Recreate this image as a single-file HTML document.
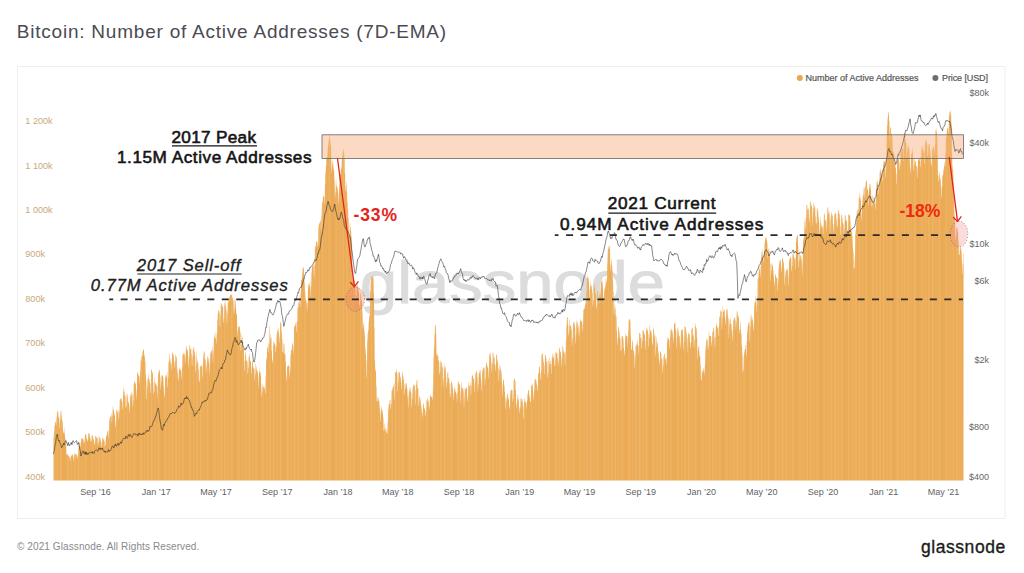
<!DOCTYPE html>
<html><head><meta charset="utf-8">
<style>
html,body{margin:0;padding:0;background:#ffffff;}
body{width:1024px;height:573px;overflow:hidden;position:relative;font-family:"Liberation Sans", sans-serif;}
svg{position:absolute;left:0;top:0;}
</style></head><body>
<svg width="1024" height="573" viewBox="0 0 1024 573" font-family='"Liberation Sans", sans-serif'>
<rect x="17.5" y="66.5" width="987.5" height="452" fill="#ffffff" stroke="#efefef" stroke-width="1"/>
<text x="16.8" y="38.4" font-size="19" fill="#4b4b53" letter-spacing="0.775">Bitcoin: Number of Active Addresses (7D-EMA)</text>
<!-- legend -->
<circle cx="799.8" cy="78" r="3" fill="#e9a74f"/>
<text x="805.5" y="81.4" font-size="9" fill="#555" stroke="#555" stroke-width="0.2">Number of Active Addresses</text>
<circle cx="935.4" cy="78" r="3" fill="#6e6e6e"/>
<text x="942" y="81.4" font-size="9" fill="#555" stroke="#555" stroke-width="0.2" letter-spacing="-0.1">Price [USD]</text>
<!-- left axis -->
<g font-size="9.1" fill="#c9a87c">
<text x="25.3" y="124.1">1 200k</text>
<text x="25.3" y="168.5">1 100k</text>
<text x="25.3" y="213.0">1 000k</text>
<text x="25.3" y="257.4">900k</text>
<text x="25.3" y="301.9">800k</text>
<text x="25.3" y="346.3">700k</text>
<text x="25.3" y="390.7">600k</text>
<text x="25.3" y="435.2">500k</text>
<text x="25.3" y="479.6">400k</text>
</g>
<g font-size="9" fill="#666" text-anchor="end">
<text x="989" y="96.1">$80k</text>
<text x="989" y="146.3">$40k</text>
<text x="989" y="246.7">$10k</text>
<text x="989" y="283.7">$6k</text>
<text x="989" y="363.2">$2k</text>
<text x="989" y="429.6">$800</text>
<text x="989" y="479.8">$400</text>
</g>
<g font-size="9" fill="#5f5f66" text-anchor="middle">
<text x="95.5" y="494.9">Sep &#8217;16</text>
<text x="156.3" y="494.9">Jan &#8217;17</text>
<text x="216.0" y="494.9">May &#8217;17</text>
<text x="277.3" y="494.9">Sep &#8217;17</text>
<text x="338.0" y="494.9">Jan &#8217;18</text>
<text x="397.8" y="494.9">May &#8217;18</text>
<text x="459.0" y="494.9">Sep &#8217;18</text>
<text x="519.8" y="494.9">Jan &#8217;19</text>
<text x="579.6" y="494.9">May &#8217;19</text>
<text x="640.8" y="494.9">Sep &#8217;19</text>
<text x="701.6" y="494.9">Jan &#8217;20</text>
<text x="761.8" y="494.9">May &#8217;20</text>
<text x="823.1" y="494.9">Sep &#8217;20</text>
<text x="883.8" y="494.9">Jan &#8217;21</text>
<text x="943.6" y="494.9">May &#8217;21</text>
</g>
<text x="360" y="303" font-size="60" fill="#dcdcdc" stroke="#dcdcdc" stroke-width="0.9" textLength="305" lengthAdjust="spacingAndGlyphs">glassnode</text>
<rect x="322" y="134.8" width="641.4" height="23.6" fill="#fcdcc6"/>
<defs><pattern id="st" patternUnits="userSpaceOnUse" x="53.5" y="0" width="24.4" height="10"><rect x="0" y="0" width="1.2" height="10" fill="#fff2d0" fill-opacity="0.16"/><rect x="3.4" y="0" width="0.9" height="10" fill="#fff2d0" fill-opacity="0.1"/><rect x="6.8" y="0" width="1.4" height="10" fill="#fff2d0" fill-opacity="0.13"/><rect x="10.6" y="0" width="0.8" height="10" fill="#c07018" fill-opacity="0.07"/><rect x="13.9" y="0" width="1.1" height="10" fill="#fff2d0" fill-opacity="0.14"/><rect x="17.6" y="0" width="1.0" height="10" fill="#fff2d0" fill-opacity="0.09"/><rect x="20.9" y="0" width="1.3" height="10" fill="#fff2d0" fill-opacity="0.13"/><rect x="9.0" y="0" width="1.0" height="10" fill="#c07018" fill-opacity="0.06"/><rect x="22.6" y="0" width="0.8" height="10" fill="#c07018" fill-opacity="0.06"/></pattern></defs>
<path d="M53.5,480.6 L53.5,438.0 L53.7,438.0 L54.0,432.5 L54.2,432.5 L54.5,426.0 L54.7,426.0 L55.0,421.7 L55.2,421.7 L55.5,421.8 L55.7,421.8 L56.0,425.7 L56.2,425.7 L56.5,418.3 L56.7,418.3 L57.0,412.7 L57.2,412.7 L57.5,410.4 L57.7,410.4 L58.0,411.7 L58.2,411.7 L58.5,417.4 L58.7,417.4 L59.0,416.9 L59.2,416.9 L59.5,428.2 L59.7,428.2 L60.0,420.2 L60.2,420.2 L60.5,412.2 L60.7,412.2 L61.0,410.0 L61.2,410.0 L61.5,415.4 L61.7,415.4 L62.0,420.1 L62.2,420.1 L62.5,422.5 L62.7,422.5 L63.0,433.7 L63.2,433.7 L63.5,431.9 L63.7,431.9 L64.0,427.7 L64.2,427.7 L64.5,433.6 L64.7,433.6 L65.0,437.5 L65.2,437.5 L65.5,441.0 L65.7,441.0 L66.0,444.7 L66.2,444.7 L66.4,454.8 L66.7,454.8 L66.9,454.0 L67.2,454.0 L67.4,454.4 L67.7,454.4 L67.9,455.5 L68.2,455.5 L68.4,455.8 L68.7,455.8 L68.9,456.8 L69.2,456.8 L69.4,456.7 L69.7,456.7 L69.9,460.9 L70.2,460.9 L70.4,458.0 L70.7,458.0 L70.9,455.8 L71.2,455.8 L71.4,455.8 L71.7,455.8 L71.9,454.4 L72.2,454.4 L72.4,454.7 L72.7,454.7 L72.9,455.5 L73.2,455.5 L73.4,460.5 L73.7,460.5 L73.9,457.1 L74.2,457.1 L74.4,454.1 L74.7,454.1 L74.9,453.5 L75.2,453.5 L75.4,454.2 L75.7,454.2 L75.9,454.2 L76.2,454.2 L76.4,454.8 L76.7,454.8 L76.9,458.8 L77.2,458.8 L77.4,456.5 L77.7,456.5 L77.9,453.7 L78.2,453.7 L78.4,449.0 L78.6,449.0 L78.9,445.8 L79.1,445.8 L79.4,442.0 L79.6,442.0 L79.9,442.6 L80.1,442.6 L80.4,446.9 L80.6,446.9 L80.9,441.4 L81.1,441.4 L81.4,438.3 L81.6,438.3 L81.9,438.8 L82.1,438.8 L82.4,438.9 L82.6,438.9 L82.9,438.2 L83.1,438.2 L83.4,439.8 L83.6,439.8 L83.9,443.6 L84.1,443.6 L84.4,442.0 L84.6,442.0 L84.9,435.2 L85.1,435.2 L85.4,434.3 L85.6,434.3 L85.9,433.9 L86.1,433.9 L86.4,437.3 L86.6,437.3 L86.9,438.9 L87.1,438.9 L87.4,441.4 L87.6,441.4 L87.9,440.2 L88.1,440.2 L88.4,433.2 L88.6,433.2 L88.9,433.3 L89.1,433.3 L89.4,434.3 L89.6,434.3 L89.9,437.0 L90.1,437.0 L90.4,439.0 L90.6,439.0 L90.8,442.1 L91.1,442.1 L91.3,440.7 L91.6,440.7 L91.8,434.4 L92.1,434.4 L92.3,436.3 L92.6,436.3 L92.8,435.7 L93.1,435.7 L93.3,438.7 L93.6,438.7 L93.8,440.6 L94.1,440.6 L94.3,444.9 L94.6,444.9 L94.8,443.2 L95.1,443.2 L95.3,435.8 L95.6,435.8 L95.8,436.0 L96.1,436.0 L96.3,437.9 L96.6,437.9 L96.8,436.7 L97.1,436.7 L97.3,438.7 L97.6,438.7 L97.8,445.3 L98.1,445.3 L98.3,442.6 L98.6,442.6 L98.8,436.5 L99.1,436.5 L99.3,436.6 L99.6,436.6 L99.8,439.5 L100.1,439.5 L100.3,438.3 L100.6,438.3 L100.8,442.0 L101.1,442.0 L101.3,447.5 L101.6,447.5 L101.8,442.3 L102.1,442.3 L102.3,437.4 L102.6,437.4 L102.8,438.1 L103.1,438.1 L103.3,439.3 L103.5,439.3 L103.8,439.9 L104.0,439.9 L104.3,441.1 L104.5,441.1 L104.8,447.0 L105.0,447.0 L105.3,444.7 L105.5,444.7 L105.8,437.7 L106.0,437.7 L106.3,435.5 L106.5,435.5 L106.8,434.8 L107.0,434.8 L107.3,431.3 L107.5,431.3 L107.8,430.8 L108.0,430.8 L108.3,438.7 L108.5,438.7 L108.8,430.1 L109.0,430.1 L109.3,420.8 L109.5,420.8 L109.8,417.5 L110.0,417.5 L110.3,416.8 L110.5,416.8 L110.8,416.4 L111.0,416.4 L111.3,413.0 L111.5,413.0 L111.8,423.6 L112.0,423.6 L112.3,415.8 L112.5,415.8 L112.8,406.1 L113.0,406.1 L113.3,409.5 L113.5,409.5 L113.8,410.8 L114.0,410.8 L114.3,414.3 L114.5,414.3 L114.8,415.7 L115.0,415.7 L115.3,427.7 L115.5,427.7 L115.8,422.7 L116.0,422.7 L116.2,410.9 L116.5,410.9 L116.7,409.4 L117.0,409.4 L117.2,411.3 L117.5,411.3 L117.7,412.7 L118.0,412.7 L118.2,409.2 L118.5,409.2 L118.7,419.1 L119.0,419.1 L119.2,412.3 L119.5,412.3 L119.7,399.9 L120.0,399.9 L120.2,399.1 L120.5,399.1 L120.7,398.3 L121.0,398.3 L121.2,398.5 L121.5,398.5 L121.7,401.2 L122.0,401.2 L122.2,409.2 L122.5,409.2 L122.7,401.3 L123.0,401.3 L123.2,391.8 L123.5,391.8 L123.7,387.3 L124.0,387.3 L124.2,391.6 L124.5,391.6 L124.7,395.4 L125.0,395.4 L125.2,396.0 L125.5,396.0 L125.7,408.1 L126.0,408.1 L126.2,406.0 L126.5,406.0 L126.7,393.5 L127.0,393.5 L127.2,394.6 L127.5,394.6 L127.7,398.2 L128.0,398.2 L128.2,402.4 L128.4,402.4 L128.7,402.0 L128.9,402.0 L129.2,413.0 L129.4,413.0 L129.7,405.0 L129.9,405.0 L130.2,396.8 L130.4,396.8 L130.7,393.4 L130.9,393.4 L131.2,396.3 L131.4,396.3 L131.7,391.3 L131.9,391.3 L132.2,393.9 L132.4,393.9 L132.7,407.2 L132.9,407.2 L133.2,400.2 L133.4,400.2 L133.7,383.9 L133.9,383.9 L134.2,381.8 L134.4,381.8 L134.7,380.7 L134.9,380.7 L135.2,384.1 L135.4,384.1 L135.7,382.9 L135.9,382.9 L136.2,399.4 L136.4,399.4 L136.7,390.1 L136.9,390.1 L137.2,373.0 L137.4,373.0 L137.7,371.7 L137.9,371.7 L138.2,375.9 L138.4,375.9 L138.7,374.4 L138.9,374.4 L139.2,376.4 L139.4,376.4 L139.7,383.3 L139.9,383.3 L140.2,371.3 L140.4,371.3 L140.7,358.9 L140.9,358.9 L141.1,360.9 L141.4,360.9 L141.6,355.8 L141.9,355.8 L142.1,355.7 L142.4,355.7 L142.6,351.6 L142.9,351.6 L143.1,349.2 L143.4,349.2 L143.6,350.1 L143.9,350.1 L144.1,354.5 L144.4,354.5 L144.6,356.8 L144.9,356.8 L145.1,361.2 L145.4,361.2 L145.6,374.1 L145.9,374.1 L146.1,381.0 L146.4,381.0 L146.6,399.2 L146.9,399.2 L147.1,387.0 L147.4,387.0 L147.6,378.5 L147.9,378.5 L148.1,378.7 L148.4,378.7 L148.6,373.8 L148.9,373.8 L149.1,379.0 L149.4,379.0 L149.6,382.1 L149.9,382.1 L150.1,393.1 L150.4,393.1 L150.6,383.4 L150.9,383.4 L151.1,369.6 L151.4,369.6 L151.6,369.7 L151.9,369.7 L152.1,371.7 L152.4,371.7 L152.6,373.4 L152.9,373.4 L153.1,382.0 L153.3,382.0 L153.6,394.0 L153.8,394.0 L154.1,391.6 L154.3,391.6 L154.6,377.5 L154.8,377.5 L155.1,383.7 L155.3,383.7 L155.6,382.2 L155.8,382.2 L156.1,384.4 L156.3,384.4 L156.6,386.0 L156.8,386.0 L157.1,397.8 L157.3,397.8 L157.6,386.0 L157.8,386.0 L158.1,371.2 L158.3,371.2 L158.6,373.9 L158.8,373.9 L159.1,369.5 L159.3,369.5 L159.6,370.9 L159.8,370.9 L160.1,376.9 L160.3,376.9 L160.6,390.0 L160.8,390.0 L161.1,382.3 L161.3,382.3 L161.6,375.6 L161.8,375.6 L162.1,375.2 L162.3,375.2 L162.6,375.6 L162.8,375.6 L163.1,377.6 L163.3,377.6 L163.6,386.7 L163.8,386.7 L164.1,397.8 L164.3,397.8 L164.6,393.4 L164.8,393.4 L165.1,377.4 L165.3,377.4 L165.6,374.7 L165.8,374.7 L166.0,375.7 L166.3,375.7 L166.5,376.9 L166.8,376.9 L167.0,372.1 L167.3,372.1 L167.5,387.4 L167.8,387.4 L168.0,377.8 L168.3,377.8 L168.5,362.2 L168.8,362.2 L169.0,360.6 L169.3,360.6 L169.5,353.4 L169.8,353.4 L170.0,358.4 L170.3,358.4 L170.5,363.1 L170.8,363.1 L171.0,369.4 L171.3,369.4 L171.5,363.0 L171.8,363.0 L172.0,351.7 L172.3,351.7 L172.5,353.7 L172.8,353.7 L173.0,354.1 L173.3,354.1 L173.5,356.0 L173.8,356.0 L174.0,361.2 L174.3,361.2 L174.5,367.8 L174.8,367.8 L175.0,361.8 L175.3,361.8 L175.5,354.2 L175.8,354.2 L176.0,356.0 L176.3,356.0 L176.5,357.8 L176.8,357.8 L177.0,368.5 L177.3,368.5 L177.5,372.4 L177.8,372.4 L178.0,381.0 L178.2,381.0 L178.5,378.2 L178.7,378.2 L179.0,367.0 L179.2,367.0 L179.5,369.4 L179.7,369.4 L180.0,368.8 L180.2,368.8 L180.5,370.4 L180.7,370.4 L181.0,370.6 L181.2,370.6 L181.5,379.5 L181.7,379.5 L182.0,367.8 L182.2,367.8 L182.5,355.0 L182.7,355.0 L183.0,352.6 L183.2,352.6 L183.5,354.2 L183.7,354.2 L184.0,354.7 L184.2,354.7 L184.5,353.0 L184.7,353.0 L185.0,363.5 L185.2,363.5 L185.5,356.2 L185.7,356.2 L186.0,345.6 L186.2,345.6 L186.5,348.3 L186.7,348.3 L187.0,351.0 L187.2,351.0 L187.5,349.3 L187.7,349.3 L188.0,355.5 L188.2,355.5 L188.5,366.9 L188.7,366.9 L189.0,357.3 L189.2,357.3 L189.5,344.7 L189.7,344.7 L190.0,346.5 L190.2,346.5 L190.4,349.5 L190.7,349.5 L190.9,348.7 L191.2,348.7 L191.4,354.3 L191.7,354.3 L191.9,365.9 L192.2,365.9 L192.4,356.6 L192.7,356.6 L192.9,347.4 L193.2,347.4 L193.4,350.2 L193.7,350.2 L193.9,347.1 L194.2,347.1 L194.4,352.0 L194.7,352.0 L194.9,355.5 L195.2,355.5 L195.4,372.6 L195.7,372.6 L195.9,365.6 L196.2,365.6 L196.4,351.6 L196.7,351.6 L196.9,359.3 L197.2,359.3 L197.4,362.4 L197.7,362.4 L197.9,362.3 L198.2,362.3 L198.4,369.4 L198.7,369.4 L198.9,382.2 L199.2,382.2 L199.4,380.4 L199.7,380.4 L199.9,365.7 L200.2,365.7 L200.4,367.0 L200.7,367.0 L200.9,366.1 L201.2,366.1 L201.4,365.1 L201.7,365.1 L201.9,367.1 L202.2,367.1 L202.4,377.2 L202.7,377.2 L202.9,364.0 L203.1,364.0 L203.4,354.4 L203.6,354.4 L203.9,351.1 L204.1,351.1 L204.4,352.3 L204.6,352.3 L204.9,360.1 L205.1,360.1 L205.4,358.5 L205.6,358.5 L205.9,373.1 L206.1,373.1 L206.4,366.3 L206.6,366.3 L206.9,361.8 L207.1,361.8 L207.4,357.0 L207.6,357.0 L207.9,355.6 L208.1,355.6 L208.4,362.0 L208.6,362.0 L208.9,357.9 L209.1,357.9 L209.4,375.3 L209.6,375.3 L209.9,364.6 L210.1,364.6 L210.4,352.5 L210.6,352.5 L210.9,353.1 L211.1,353.1 L211.4,350.1 L211.6,350.1 L211.9,351.5 L212.1,351.5 L212.4,346.4 L212.6,346.4 L212.9,363.3 L213.1,363.3 L213.4,351.3 L213.6,351.3 L213.9,338.9 L214.1,338.9 L214.4,334.2 L214.6,334.2 L214.9,337.6 L215.1,337.6 L215.3,338.7 L215.6,338.7 L215.8,331.5 L216.1,331.5 L216.3,343.2 L216.6,343.2 L216.8,333.7 L217.1,333.7 L217.3,320.5 L217.6,320.5 L217.8,313.5 L218.1,313.5 L218.3,311.0 L218.6,311.0 L218.8,309.7 L219.1,309.7 L219.3,312.5 L219.6,312.5 L219.8,326.4 L220.1,326.4 L220.3,315.3 L220.6,315.3 L220.8,303.0 L221.1,303.0 L221.3,303.9 L221.6,303.9 L221.8,304.8 L222.1,304.8 L222.3,306.7 L222.6,306.7 L222.8,306.8 L223.1,306.8 L223.3,323.0 L223.6,323.0 L223.8,318.5 L224.1,318.5 L224.3,301.9 L224.6,301.9 L224.8,305.3 L225.1,305.3 L225.3,301.8 L225.6,301.8 L225.8,307.5 L226.1,307.5 L226.3,310.8 L226.6,310.8 L226.8,322.9 L227.1,322.9 L227.3,313.3 L227.6,313.3 L227.8,299.8 L228.0,299.8 L228.3,300.8 L228.5,300.8 L228.8,303.0 L229.0,303.0 L229.3,297.3 L229.5,297.3 L229.8,295.9 L230.0,295.9 L230.3,294.6 L230.5,294.6 L230.8,295.0 L231.0,295.0 L231.3,294.5 L231.5,294.5 L231.8,295.3 L232.0,295.3 L232.3,299.3 L232.5,299.3 L232.8,297.1 L233.0,297.1 L233.3,301.1 L233.5,301.1 L233.8,314.0 L234.0,314.0 L234.3,309.7 L234.5,309.7 L234.8,298.3 L235.0,298.3 L235.3,300.6 L235.5,300.6 L235.8,307.8 L236.0,307.8 L236.3,313.8 L236.5,313.8 L236.8,314.7 L237.0,314.7 L237.3,335.9 L237.5,335.9 L237.8,330.5 L238.0,330.5 L238.3,326.4 L238.5,326.4 L238.8,326.3 L239.0,326.3 L239.3,326.2 L239.5,326.2 L239.8,328.6 L240.0,328.6 L240.2,332.2 L240.5,332.2 L240.7,351.1 L241.0,351.1 L241.2,344.5 L241.5,344.5 L241.7,334.6 L242.0,334.6 L242.2,337.7 L242.5,337.7 L242.7,341.0 L243.0,341.0 L243.2,348.5 L243.5,348.5 L243.7,348.7 L244.0,348.7 L244.2,370.8 L244.5,370.8 L244.7,361.0 L245.0,361.0 L245.2,352.2 L245.5,352.2 L245.7,354.5 L246.0,354.5 L246.2,360.0 L246.5,360.0 L246.7,361.2 L247.0,361.2 L247.2,361.8 L247.5,361.8 L247.7,374.0 L248.0,374.0 L248.2,367.7 L248.5,367.7 L248.7,356.5 L249.0,356.5 L249.2,353.6 L249.5,353.6 L249.7,357.4 L250.0,357.4 L250.2,361.2 L250.5,361.2 L250.7,361.5 L251.0,361.5 L251.2,373.9 L251.5,373.9 L251.7,367.2 L252.0,367.2 L252.2,360.3 L252.5,360.3 L252.7,362.2 L252.9,362.2 L253.2,367.1 L253.4,367.1 L253.7,369.1 L253.9,369.1 L254.2,367.9 L254.4,367.9 L254.7,380.9 L254.9,380.9 L255.2,373.7 L255.4,373.7 L255.7,363.0 L255.9,363.0 L256.2,367.0 L256.4,367.0 L256.7,370.0 L256.9,370.0 L257.2,372.2 L257.4,372.2 L257.7,370.4 L257.9,370.4 L258.2,388.6 L258.4,388.6 L258.7,376.8 L258.9,376.8 L259.2,367.8 L259.4,367.8 L259.7,373.3 L259.9,373.3 L260.2,371.6 L260.4,371.6 L260.7,375.4 L260.9,375.4 L261.2,386.4 L261.4,386.4 L261.7,397.2 L261.9,397.2 L262.2,391.8 L262.4,391.8 L262.7,383.8 L262.9,383.8 L263.2,387.6 L263.4,387.6 L263.7,386.4 L263.9,386.4 L264.2,389.3 L264.4,389.3 L264.7,386.6 L264.9,386.6 L265.1,393.4 L265.4,393.4 L265.6,376.5 L265.9,376.5 L266.1,360.8 L266.4,360.8 L266.6,358.1 L266.9,358.1 L267.1,348.3 L267.4,348.3 L267.6,346.8 L267.9,346.8 L268.1,342.4 L268.4,342.4 L268.6,352.6 L268.9,352.6 L269.1,343.7 L269.4,343.7 L269.6,325.8 L269.9,325.8 L270.1,334.2 L270.4,334.2 L270.6,339.1 L270.9,339.1 L271.1,337.6 L271.4,337.6 L271.6,350.7 L271.9,350.7 L272.1,362.5 L272.4,362.5 L272.6,359.7 L272.9,359.7 L273.1,345.6 L273.4,345.6 L273.6,340.9 L273.9,340.9 L274.1,343.4 L274.4,343.4 L274.6,342.8 L274.9,342.8 L275.1,345.1 L275.4,345.1 L275.6,352.2 L275.9,352.2 L276.1,346.5 L276.4,346.5 L276.6,334.6 L276.9,334.6 L277.1,331.7 L277.4,331.7 L277.6,330.4 L277.8,330.4 L278.1,327.4 L278.3,327.4 L278.6,332.2 L278.8,332.2 L279.1,342.9 L279.3,342.9 L279.6,336.5 L279.8,336.5 L280.1,323.0 L280.3,323.0 L280.6,321.9 L280.8,321.9 L281.1,323.6 L281.3,323.6 L281.6,332.5 L281.8,332.5 L282.1,338.9 L282.3,338.9 L282.6,351.9 L282.8,351.9 L283.1,353.1 L283.3,353.1 L283.6,342.8 L283.8,342.8 L284.1,344.2 L284.3,344.2 L284.6,354.7 L284.8,354.7 L285.1,353.7 L285.3,353.7 L285.6,361.9 L285.8,361.9 L286.1,381.6 L286.3,381.6 L286.6,376.3 L286.8,376.3 L287.1,366.1 L287.3,366.1 L287.6,366.9 L287.8,366.9 L288.1,365.8 L288.3,365.8 L288.6,365.3 L288.8,365.3 L289.1,366.3 L289.3,366.3 L289.6,377.2 L289.8,377.2 L290.1,370.6 L290.3,370.6 L290.5,355.1 L290.8,355.1 L291.0,350.6 L291.3,350.6 L291.5,349.8 L291.8,349.8 L292.0,344.6 L292.3,344.6 L292.5,343.1 L292.8,343.1 L293.0,353.3 L293.3,353.3 L293.5,346.0 L293.8,346.0 L294.0,327.1 L294.3,327.1 L294.5,326.2 L294.8,326.2 L295.0,322.6 L295.3,322.6 L295.5,325.4 L295.8,325.4 L296.0,322.1 L296.3,322.1 L296.5,332.0 L296.8,332.0 L297.0,321.6 L297.3,321.6 L297.5,307.8 L297.8,307.8 L298.0,307.6 L298.3,307.6 L298.5,301.8 L298.8,301.8 L299.0,303.4 L299.3,303.4 L299.5,296.6 L299.8,296.6 L300.0,307.0 L300.3,307.0 L300.5,293.7 L300.8,293.7 L301.0,279.9 L301.3,279.9 L301.5,279.8 L301.8,279.8 L302.0,276.3 L302.3,276.3 L302.5,269.2 L302.7,269.2 L303.0,267.8 L303.2,267.8 L303.5,266.9 L303.7,266.9 L304.0,274.3 L304.2,274.3 L304.5,283.2 L304.7,283.2 L305.0,291.0 L305.2,291.0 L305.5,298.5 L305.7,298.5 L306.0,300.2 L306.2,300.2 L306.5,302.5 L306.7,302.5 L307.0,311.1 L307.2,311.1 L307.5,303.1 L307.7,303.1 L308.0,288.7 L308.2,288.7 L308.5,284.5 L308.7,284.5 L309.0,283.2 L309.2,283.2 L309.5,286.4 L309.7,286.4 L310.0,280.7 L310.2,280.7 L310.5,297.1 L310.7,297.1 L311.0,287.0 L311.2,287.0 L311.5,272.6 L311.7,272.6 L312.0,266.2 L312.2,266.2 L312.5,266.1 L312.7,266.1 L313.0,265.1 L313.2,265.1 L313.5,265.6 L313.7,265.6 L314.0,278.4 L314.2,278.4 L314.5,264.5 L314.7,264.5 L314.9,246.4 L315.2,246.4 L315.4,247.6 L315.7,247.6 L315.9,242.4 L316.2,242.4 L316.4,241.3 L316.7,241.3 L316.9,241.7 L317.2,241.7 L317.4,246.4 L317.7,246.4 L317.9,242.1 L318.2,242.1 L318.4,226.7 L318.7,226.7 L318.9,223.9 L319.2,223.9 L319.4,223.2 L319.7,223.2 L319.9,221.8 L320.2,221.8 L320.4,219.8 L320.7,219.8 L320.9,231.5 L321.2,231.5 L321.4,215.5 L321.7,215.5 L321.9,203.2 L322.2,203.2 L322.4,201.4 L322.7,201.4 L322.9,197.1 L323.2,197.1 L323.4,195.7 L323.7,195.7 L323.9,196.7 L324.2,196.7 L324.4,203.8 L324.7,203.8 L324.9,184.4 L325.2,184.4 L325.4,172.3 L325.7,172.3 L325.9,166.6 L326.2,166.6 L326.4,158.3 L326.7,158.3 L326.9,157.1 L327.2,157.1 L327.4,155.0 L327.6,155.0 L327.9,147.1 L328.1,147.1 L328.4,143.1 L328.6,143.1 L328.9,139.1 L329.1,139.1 L329.4,133.6 L329.6,133.6 L329.9,139.0 L330.1,139.0 L330.4,143.0 L330.6,143.0 L330.9,147.0 L331.1,147.0 L331.4,172.9 L331.6,172.9 L331.9,166.6 L332.1,166.6 L332.4,160.7 L332.6,160.7 L332.9,163.6 L333.1,163.6 L333.4,168.7 L333.6,168.7 L333.9,170.6 L334.1,170.6 L334.4,180.8 L334.6,180.8 L334.9,198.2 L335.1,198.2 L335.4,192.1 L335.6,192.1 L335.9,179.3 L336.1,179.3 L336.4,185.3 L336.6,185.3 L336.9,187.1 L337.1,187.1 L337.4,188.2 L337.6,188.2 L337.9,193.1 L338.1,193.1 L338.4,204.0 L338.6,204.0 L338.9,192.6 L339.1,192.6 L339.4,177.6 L339.6,177.6 L339.9,175.2 L340.1,175.2 L340.3,173.9 L340.6,173.9 L340.8,169.8 L341.1,169.8 L341.3,167.6 L341.6,167.6 L341.8,158.9 L342.1,158.9 L342.3,155.6 L342.6,155.6 L342.8,151.1 L343.1,151.1 L343.3,149.1 L343.6,149.1 L343.8,152.1 L344.1,152.1 L344.3,158.2 L344.6,158.2 L344.8,173.5 L345.1,173.5 L345.3,191.1 L345.6,191.1 L345.8,186.4 L346.1,186.4 L346.3,181.8 L346.6,181.8 L346.8,192.1 L347.1,192.1 L347.3,202.1 L347.6,202.1 L347.8,208.7 L348.1,208.7 L348.3,218.0 L348.6,218.0 L348.8,236.1 L349.1,236.1 L349.3,235.2 L349.6,235.2 L349.8,222.5 L350.1,222.5 L350.3,226.8 L350.6,226.8 L350.8,230.4 L351.1,230.4 L351.3,236.5 L351.6,236.5 L351.8,243.6 L352.1,243.6 L352.3,271.6 L352.5,271.6 L352.8,280.7 L353.0,280.7 L353.3,278.4 L353.5,278.4 L353.8,279.1 L354.0,279.1 L354.3,280.5 L354.5,280.5 L354.8,285.3 L355.0,285.3 L355.3,285.5 L355.5,285.5 L355.8,298.9 L356.0,298.9 L356.3,295.0 L356.5,295.0 L356.8,283.3 L357.0,283.3 L357.3,287.3 L357.5,287.3 L357.8,284.4 L358.0,284.4 L358.3,289.3 L358.5,289.3 L358.8,292.9 L359.0,292.9 L359.3,304.5 L359.5,304.5 L359.8,306.3 L360.0,306.3 L360.3,291.9 L360.5,291.9 L360.8,294.2 L361.0,294.2 L361.3,299.8 L361.5,299.8 L361.8,301.2 L362.0,301.2 L362.3,312.1 L362.5,312.1 L362.8,328.9 L363.0,328.9 L363.3,325.2 L363.5,325.2 L363.8,321.5 L364.0,321.5 L364.3,331.7 L364.5,331.7 L364.8,335.7 L365.0,335.7 L365.2,347.7 L365.5,347.7 L365.7,354.5 L366.0,354.5 L366.2,377.5 L366.5,377.5 L366.7,360.7 L367.0,360.7 L367.2,341.0 L367.5,341.0 L367.7,332.8 L368.0,332.8 L368.2,330.3 L368.5,330.3 L368.7,322.1 L369.0,322.1 L369.2,314.6 L369.5,314.6 L369.7,317.2 L370.0,317.2 L370.2,291.6 L370.5,291.6 L370.7,281.9 L371.0,281.9 L371.2,276.6 L371.5,276.6 L371.7,274.9 L372.0,274.9 L372.2,276.5 L372.5,276.5 L372.7,277.5 L373.0,277.5 L373.2,277.8 L373.5,277.8 L373.7,293.5 L374.0,293.5 L374.2,327.5 L374.5,327.5 L374.7,360.1 L375.0,360.1 L375.2,369.5 L375.5,369.5 L375.7,371.4 L376.0,371.4 L376.2,386.5 L376.5,386.5 L376.7,401.5 L377.0,401.5 L377.2,401.1 L377.4,401.1 L377.7,396.4 L377.9,396.4 L378.2,400.7 L378.4,400.7 L378.7,397.6 L378.9,397.6 L379.2,402.1 L379.4,402.1 L379.7,408.0 L379.9,408.0 L380.2,421.8 L380.4,421.8 L380.7,411.7 L380.9,411.7 L381.2,405.9 L381.4,405.9 L381.7,411.1 L381.9,411.1 L382.2,409.5 L382.4,409.5 L382.7,413.8 L382.9,413.8 L383.2,418.1 L383.4,418.1 L383.7,431.0 L383.9,431.0 L384.2,429.7 L384.4,429.7 L384.7,422.8 L384.9,422.8 L385.2,428.0 L385.4,428.0 L385.7,431.7 L385.9,431.7 L386.2,433.3 L386.4,433.3 L386.7,429.1 L386.9,429.1 L387.2,434.3 L387.4,434.3 L387.7,422.3 L387.9,422.3 L388.2,409.7 L388.4,409.7 L388.7,404.5 L388.9,404.5 L389.2,404.1 L389.4,404.1 L389.6,400.7 L389.9,400.7 L390.1,399.9 L390.4,399.9 L390.6,408.8 L390.9,408.8 L391.1,404.0 L391.4,404.0 L391.6,390.5 L391.9,390.5 L392.1,390.3 L392.4,390.3 L392.6,387.2 L392.9,387.2 L393.1,386.9 L393.4,386.9 L393.6,384.6 L393.9,384.6 L394.1,399.3 L394.4,399.3 L394.6,383.1 L394.9,383.1 L395.1,371.9 L395.4,371.9 L395.6,372.6 L395.9,372.6 L396.1,371.9 L396.4,371.9 L396.6,369.0 L396.9,369.0 L397.1,373.3 L397.4,373.3 L397.6,391.3 L397.9,391.3 L398.1,381.9 L398.4,381.9 L398.6,372.0 L398.9,372.0 L399.1,373.1 L399.4,373.1 L399.6,371.3 L399.9,371.3 L400.1,376.6 L400.4,376.6 L400.6,378.5 L400.9,378.5 L401.1,389.0 L401.4,389.0 L401.6,382.2 L401.9,382.2 L402.1,371.3 L402.3,371.3 L402.6,373.4 L402.8,373.4 L403.1,380.3 L403.3,380.3 L403.6,376.0 L403.8,376.0 L404.1,383.9 L404.3,383.9 L404.6,395.1 L404.8,395.1 L405.1,388.8 L405.3,388.8 L405.6,383.2 L405.8,383.2 L406.1,383.0 L406.3,383.0 L406.6,384.9 L406.8,384.9 L407.1,388.9 L407.3,388.9 L407.6,396.4 L407.8,396.4 L408.1,407.8 L408.3,407.8 L408.6,395.8 L408.8,395.8 L409.1,387.0 L409.3,387.0 L409.6,392.1 L409.8,392.1 L410.1,387.5 L410.3,387.5 L410.6,391.3 L410.8,391.3 L411.1,392.7 L411.3,392.7 L411.6,407.6 L411.8,407.6 L412.1,398.4 L412.3,398.4 L412.6,387.8 L412.8,387.8 L413.1,386.2 L413.3,386.2 L413.6,384.2 L413.8,384.2 L414.1,385.0 L414.3,385.0 L414.6,386.6 L414.8,386.6 L415.0,404.8 L415.3,404.8 L415.5,390.6 L415.8,390.6 L416.0,380.0 L416.3,380.0 L416.5,385.1 L416.8,385.1 L417.0,379.7 L417.3,379.7 L417.5,388.6 L417.8,388.6 L418.0,388.0 L418.3,388.0 L418.5,405.9 L418.8,405.9 L419.0,399.2 L419.3,399.2 L419.5,395.5 L419.8,395.5 L420.0,397.7 L420.3,397.7 L420.5,401.8 L420.8,401.8 L421.0,404.9 L421.3,404.9 L421.5,408.9 L421.8,408.9 L422.0,416.8 L422.3,416.8 L422.5,413.0 L422.8,413.0 L423.0,403.6 L423.3,403.6 L423.5,404.2 L423.8,404.2 L424.0,409.0 L424.3,409.0 L424.5,407.8 L424.8,407.8 L425.0,410.6 L425.3,410.6 L425.5,416.2 L425.8,416.2 L426.0,411.1 L426.3,411.1 L426.5,400.0 L426.8,400.0 L427.0,401.5 L427.2,401.5 L427.5,397.4 L427.7,397.4 L428.0,399.6 L428.2,399.6 L428.5,402.1 L428.7,402.1 L429.0,409.8 L429.2,409.8 L429.5,405.8 L429.7,405.8 L430.0,396.2 L430.2,396.2 L430.5,394.4 L430.7,394.4 L431.0,396.7 L431.2,396.7 L431.5,397.3 L431.7,397.3 L432.0,396.7 L432.2,396.7 L432.5,400.4 L432.7,400.4 L433.0,386.1 L433.2,386.1 L433.5,357.7 L433.7,357.7 L434.0,347.7 L434.2,347.7 L434.5,334.9 L434.7,334.9 L435.0,325.3 L435.2,325.3 L435.5,324.9 L435.7,324.9 L436.0,333.9 L436.2,333.9 L436.5,355.8 L436.7,355.8 L437.0,353.1 L437.2,353.1 L437.5,356.0 L437.7,356.0 L438.0,355.4 L438.2,355.4 L438.5,360.6 L438.7,360.6 L439.0,361.4 L439.2,361.4 L439.4,374.5 L439.7,374.5 L439.9,371.7 L440.2,371.7 L440.4,360.4 L440.7,360.4 L440.9,362.8 L441.2,362.8 L441.4,361.5 L441.7,361.5 L441.9,366.4 L442.2,366.4 L442.4,367.4 L442.7,367.4 L442.9,386.2 L443.2,386.2 L443.4,378.5 L443.7,378.5 L443.9,363.2 L444.2,363.2 L444.4,369.6 L444.7,369.6 L444.9,366.0 L445.2,366.0 L445.4,367.9 L445.7,367.9 L445.9,376.9 L446.2,376.9 L446.4,387.5 L446.7,387.5 L446.9,382.4 L447.2,382.4 L447.4,372.7 L447.7,372.7 L447.9,372.0 L448.2,372.0 L448.4,378.6 L448.7,378.6 L448.9,377.8 L449.2,377.8 L449.4,383.4 L449.7,383.4 L449.9,397.0 L450.2,397.0 L450.4,393.5 L450.7,393.5 L450.9,382.9 L451.2,382.9 L451.4,381.6 L451.7,381.6 L451.9,382.3 L452.1,382.3 L452.4,385.9 L452.6,385.9 L452.9,390.1 L453.1,390.1 L453.4,400.6 L453.6,400.6 L453.9,393.8 L454.1,393.8 L454.4,387.4 L454.6,387.4 L454.9,388.3 L455.1,388.3 L455.4,391.4 L455.6,391.4 L455.9,392.4 L456.1,392.4 L456.4,393.9 L456.6,393.9 L456.9,402.1 L457.1,402.1 L457.4,391.9 L457.6,391.9 L457.9,381.1 L458.1,381.1 L458.4,382.1 L458.6,382.1 L458.9,383.4 L459.1,383.4 L459.4,384.4 L459.6,384.4 L459.9,385.5 L460.1,385.5 L460.4,403.4 L460.6,403.4 L460.9,391.8 L461.1,391.8 L461.4,382.2 L461.6,382.2 L461.9,387.4 L462.1,387.4 L462.4,389.1 L462.6,389.1 L462.9,387.6 L463.1,387.6 L463.4,390.9 L463.6,390.9 L463.9,408.3 L464.1,408.3 L464.4,395.6 L464.6,395.6 L464.8,387.9 L465.1,387.9 L465.3,389.0 L465.6,389.0 L465.8,389.5 L466.1,389.5 L466.3,387.2 L466.6,387.2 L466.8,388.3 L467.1,388.3 L467.3,401.2 L467.6,401.2 L467.8,397.0 L468.1,397.0 L468.3,381.9 L468.6,381.9 L468.8,386.0 L469.1,386.0 L469.3,384.9 L469.6,384.9 L469.8,387.2 L470.1,387.2 L470.3,382.0 L470.6,382.0 L470.8,395.5 L471.1,395.5 L471.3,385.5 L471.6,385.5 L471.8,376.2 L472.1,376.2 L472.3,375.8 L472.6,375.8 L472.8,374.4 L473.1,374.4 L473.3,379.2 L473.6,379.2 L473.8,377.9 L474.1,377.9 L474.3,392.0 L474.6,392.0 L474.8,382.8 L475.1,382.8 L475.3,374.6 L475.6,374.6 L475.8,371.9 L476.1,371.9 L476.3,371.6 L476.6,371.6 L476.8,371.3 L477.0,371.3 L477.3,377.1 L477.5,377.1 L477.8,391.4 L478.0,391.4 L478.3,383.6 L478.5,383.6 L478.8,373.2 L479.0,373.2 L479.3,373.2 L479.5,373.2 L479.8,369.8 L480.0,369.8 L480.3,370.3 L480.5,370.3 L480.8,378.0 L481.0,378.0 L481.3,391.1 L481.5,391.1 L481.8,380.6 L482.0,380.6 L482.3,370.9 L482.5,370.9 L482.8,369.4 L483.0,369.4 L483.3,367.7 L483.5,367.7 L483.8,367.4 L484.0,367.4 L484.3,368.2 L484.5,368.2 L484.8,385.2 L485.0,385.2 L485.3,378.3 L485.5,378.3 L485.8,365.4 L486.0,365.4 L486.3,361.9 L486.5,361.9 L486.8,363.9 L487.0,363.9 L487.3,366.6 L487.5,366.6 L487.8,367.7 L488.0,367.7 L488.3,378.0 L488.5,378.0 L488.8,367.5 L489.0,367.5 L489.2,355.3 L489.5,355.3 L489.7,353.2 L490.0,353.2 L490.2,353.1 L490.5,353.1 L490.7,357.7 L491.0,357.7 L491.2,362.8 L491.5,362.8 L491.7,372.5 L492.0,372.5 L492.2,363.6 L492.5,363.6 L492.7,351.6 L493.0,351.6 L493.2,353.5 L493.5,353.5 L493.7,357.9 L494.0,357.9 L494.2,357.0 L494.5,357.0 L494.7,364.3 L495.0,364.3 L495.2,371.1 L495.5,371.1 L495.7,364.6 L496.0,364.6 L496.2,354.5 L496.5,354.5 L496.7,354.9 L497.0,354.9 L497.2,360.1 L497.5,360.1 L497.7,362.5 L498.0,362.5 L498.2,368.2 L498.5,368.2 L498.7,380.7 L499.0,380.7 L499.2,369.9 L499.5,369.9 L499.7,364.3 L500.0,364.3 L500.2,367.0 L500.5,367.0 L500.7,369.9 L501.0,369.9 L501.2,371.8 L501.5,371.8 L501.7,380.1 L501.9,380.1 L502.2,396.7 L502.4,396.7 L502.7,384.4 L502.9,384.4 L503.2,379.3 L503.4,379.3 L503.7,380.4 L503.9,380.4 L504.2,385.3 L504.4,385.3 L504.7,392.1 L504.9,392.1 L505.2,397.7 L505.4,397.7 L505.7,409.4 L505.9,409.4 L506.2,401.0 L506.4,401.0 L506.7,397.4 L506.9,397.4 L507.2,393.3 L507.4,393.3 L507.7,395.1 L507.9,395.1 L508.2,399.4 L508.4,399.4 L508.7,398.1 L508.9,398.1 L509.2,409.1 L509.4,409.1 L509.7,406.5 L509.9,406.5 L510.2,395.2 L510.4,395.2 L510.7,390.1 L510.9,390.1 L511.2,390.4 L511.4,390.4 L511.7,389.6 L511.9,389.6 L512.2,389.9 L512.4,389.9 L512.7,402.0 L512.9,402.0 L513.2,398.6 L513.4,398.6 L513.7,380.5 L513.9,380.5 L514.1,379.0 L514.4,379.0 L514.6,378.5 L514.9,378.5 L515.1,380.9 L515.4,380.9 L515.6,390.6 L515.9,390.6 L516.1,407.6 L516.4,407.6 L516.6,403.5 L516.9,403.5 L517.1,394.2 L517.4,394.2 L517.6,399.5 L517.9,399.5 L518.1,398.0 L518.4,398.0 L518.6,400.7 L518.9,400.7 L519.1,407.7 L519.4,407.7 L519.6,412.5 L519.9,412.5 L520.1,407.2 L520.4,407.2 L520.6,398.7 L520.9,398.7 L521.1,398.1 L521.4,398.1 L521.6,401.1 L521.9,401.1 L522.1,399.1 L522.4,399.1 L522.6,402.9 L522.9,402.9 L523.1,418.4 L523.4,418.4 L523.6,406.4 L523.9,406.4 L524.1,401.5 L524.4,401.5 L524.6,398.0 L524.9,398.0 L525.1,403.0 L525.4,403.0 L525.6,401.2 L525.9,401.2 L526.1,402.5 L526.4,402.5 L526.6,409.3 L526.8,409.3 L527.1,400.7 L527.3,400.7 L527.6,394.0 L527.8,394.0 L528.1,390.2 L528.3,390.2 L528.6,389.9 L528.8,389.9 L529.1,394.9 L529.3,394.9 L529.6,397.2 L529.8,397.2 L530.1,402.5 L530.3,402.5 L530.6,401.2 L530.8,401.2 L531.1,385.8 L531.3,385.8 L531.6,384.8 L531.8,384.8 L532.1,383.3 L532.3,383.3 L532.6,386.3 L532.8,386.3 L533.1,393.3 L533.3,393.3 L533.6,400.0 L533.8,400.0 L534.1,390.0 L534.3,390.0 L534.6,379.2 L534.8,379.2 L535.1,378.4 L535.3,378.4 L535.6,379.9 L535.8,379.9 L536.1,385.1 L536.3,385.1 L536.6,379.4 L536.8,379.4 L537.1,391.4 L537.3,391.4 L537.6,387.4 L537.8,387.4 L538.1,373.9 L538.3,373.9 L538.6,372.8 L538.8,372.8 L539.0,366.4 L539.3,366.4 L539.5,366.9 L539.8,366.9 L540.0,372.7 L540.3,372.7 L540.5,380.0 L540.8,380.0 L541.0,371.8 L541.3,371.8 L541.5,355.2 L541.8,355.2 L542.0,353.2 L542.3,353.2 L542.5,353.4 L542.8,353.4 L543.0,358.4 L543.3,358.4 L543.5,362.2 L543.8,362.2 L544.0,374.0 L544.3,374.0 L544.5,365.7 L544.8,365.7 L545.0,354.8 L545.3,354.8 L545.5,355.5 L545.8,355.5 L546.0,358.2 L546.3,358.2 L546.5,362.6 L546.8,362.6 L547.0,361.1 L547.3,361.1 L547.5,377.7 L547.8,377.7 L548.0,373.0 L548.3,373.0 L548.5,360.8 L548.8,360.8 L549.0,357.5 L549.3,357.5 L549.5,363.9 L549.8,363.9 L550.0,363.7 L550.3,363.7 L550.5,360.6 L550.8,360.6 L551.0,373.7 L551.3,373.7 L551.5,364.5 L551.7,364.5 L552.0,353.1 L552.2,353.1 L552.5,358.2 L552.7,358.2 L553.0,354.3 L553.2,354.3 L553.5,358.9 L553.7,358.9 L554.0,355.1 L554.2,355.1 L554.5,366.6 L554.7,366.6 L555.0,364.7 L555.2,364.7 L555.5,351.4 L555.7,351.4 L556.0,353.6 L556.2,353.6 L556.5,352.6 L556.7,352.6 L557.0,352.9 L557.2,352.9 L557.5,357.8 L557.7,357.8 L558.0,365.4 L558.2,365.4 L558.5,361.0 L558.7,361.0 L559.0,348.2 L559.2,348.2 L559.5,347.7 L559.7,347.7 L560.0,351.9 L560.2,351.9 L560.5,351.3 L560.7,351.3 L561.0,355.4 L561.2,355.4 L561.5,366.6 L561.7,366.6 L562.0,357.5 L562.2,357.5 L562.5,345.3 L562.7,345.3 L563.0,347.4 L563.2,347.4 L563.5,351.2 L563.7,351.2 L564.0,351.7 L564.2,351.7 L564.4,353.5 L564.7,353.5 L564.9,365.6 L565.2,365.6 L565.4,352.5 L565.7,352.5 L565.9,339.6 L566.2,339.6 L566.4,325.9 L566.7,325.9 L566.9,317.1 L567.2,317.1 L567.4,317.7 L567.7,317.7 L567.9,324.1 L568.2,324.1 L568.4,335.5 L568.7,335.5 L568.9,331.4 L569.2,331.4 L569.4,318.8 L569.7,318.8 L569.9,326.0 L570.2,326.0 L570.4,324.8 L570.7,324.8 L570.9,326.6 L571.2,326.6 L571.4,329.8 L571.7,329.8 L571.9,345.4 L572.2,345.4 L572.4,338.0 L572.7,338.0 L572.9,322.2 L573.2,322.2 L573.4,322.2 L573.7,322.2 L573.9,324.8 L574.2,324.8 L574.4,321.8 L574.7,321.8 L574.9,327.4 L575.2,327.4 L575.4,343.6 L575.7,343.6 L575.9,334.9 L576.2,334.9 L576.4,319.4 L576.6,319.4 L576.9,324.1 L577.1,324.1 L577.4,321.5 L577.6,321.5 L577.9,327.7 L578.1,327.7 L578.4,325.6 L578.6,325.6 L578.9,337.2 L579.1,337.2 L579.4,331.6 L579.6,331.6 L579.9,322.1 L580.1,322.1 L580.4,318.5 L580.6,318.5 L580.9,322.1 L581.1,322.1 L581.4,321.2 L581.6,321.2 L581.9,320.2 L582.1,320.2 L582.4,331.5 L582.6,331.5 L582.9,323.9 L583.1,323.9 L583.4,309.8 L583.6,309.8 L583.9,309.3 L584.1,309.3 L584.4,308.4 L584.6,308.4 L584.9,306.0 L585.1,306.0 L585.4,300.9 L585.6,300.9 L585.9,304.7 L586.1,304.7 L586.4,291.5 L586.6,291.5 L586.9,275.0 L587.1,275.0 L587.4,278.2 L587.6,278.2 L587.9,276.7 L588.1,276.7 L588.4,278.7 L588.6,278.7 L588.9,284.5 L589.1,284.5 L589.3,298.1 L589.6,298.1 L589.8,289.0 L590.1,289.0 L590.3,281.7 L590.6,281.7 L590.8,286.2 L591.1,286.2 L591.3,285.0 L591.6,285.0 L591.8,288.7 L592.1,288.7 L592.3,293.0 L592.6,293.0 L592.8,306.5 L593.1,306.5 L593.3,299.6 L593.6,299.6 L593.8,284.4 L594.1,284.4 L594.3,287.8 L594.6,287.8 L594.8,285.2 L595.1,285.2 L595.3,293.8 L595.6,293.8 L595.8,294.0 L596.1,294.0 L596.3,308.9 L596.6,308.9 L596.8,305.4 L597.1,305.4 L597.3,290.4 L597.6,290.4 L597.8,291.6 L598.1,291.6 L598.3,298.8 L598.6,298.8 L598.8,296.8 L599.1,296.8 L599.3,293.2 L599.6,293.2 L599.8,303.2 L600.1,303.2 L600.3,295.3 L600.6,295.3 L600.8,281.1 L601.1,281.1 L601.3,283.2 L601.5,283.2 L601.8,277.8 L602.0,277.8 L602.3,281.9 L602.5,281.9 L602.8,287.5 L603.0,287.5 L603.3,303.2 L603.5,303.2 L603.8,296.3 L604.0,296.3 L604.3,287.6 L604.5,287.6 L604.8,290.5 L605.0,290.5 L605.3,286.6 L605.5,286.6 L605.8,277.9 L606.0,277.9 L606.3,280.4 L606.5,280.4 L606.8,283.5 L607.0,283.5 L607.3,263.1 L607.5,263.1 L607.8,249.3 L608.0,249.3 L608.3,248.4 L608.5,248.4 L608.8,246.1 L609.0,246.1 L609.3,245.9 L609.5,245.9 L609.8,249.0 L610.0,249.0 L610.3,270.4 L610.5,270.4 L610.8,264.5 L611.0,264.5 L611.3,258.9 L611.5,258.9 L611.8,264.6 L612.0,264.6 L612.3,269.9 L612.5,269.9 L612.8,279.9 L613.0,279.9 L613.3,292.0 L613.5,292.0 L613.8,315.2 L614.0,315.2 L614.2,309.5 L614.5,309.5 L614.7,303.4 L615.0,303.4 L615.2,307.3 L615.5,307.3 L615.7,315.9 L616.0,315.9 L616.2,316.6 L616.5,316.6 L616.7,330.9 L617.0,330.9 L617.2,344.7 L617.5,344.7 L617.7,339.1 L618.0,339.1 L618.2,326.5 L618.5,326.5 L618.7,327.6 L619.0,327.6 L619.2,331.8 L619.5,331.8 L619.7,337.5 L620.0,337.5 L620.2,339.1 L620.5,339.1 L620.7,351.1 L621.0,351.1 L621.2,349.7 L621.5,349.7 L621.7,335.9 L622.0,335.9 L622.2,336.6 L622.5,336.6 L622.7,336.2 L623.0,336.2 L623.2,339.3 L623.5,339.3 L623.7,347.9 L624.0,347.9 L624.2,355.5 L624.5,355.5 L624.7,350.7 L625.0,350.7 L625.2,337.0 L625.5,337.0 L625.7,333.5 L626.0,333.5 L626.2,335.8 L626.4,335.8 L626.7,336.1 L626.9,336.1 L627.2,336.3 L627.4,336.3 L627.7,345.9 L627.9,345.9 L628.2,331.8 L628.4,331.8 L628.7,319.7 L628.9,319.7 L629.2,319.8 L629.4,319.8 L629.7,318.8 L629.9,318.8 L630.2,321.1 L630.4,321.1 L630.7,336.5 L630.9,336.5 L631.2,349.8 L631.4,349.8 L631.7,349.8 L631.9,349.8 L632.2,341.8 L632.4,341.8 L632.7,340.3 L632.9,340.3 L633.2,350.1 L633.4,350.1 L633.7,350.7 L633.9,350.7 L634.2,355.3 L634.4,355.3 L634.7,368.2 L634.9,368.2 L635.2,356.5 L635.4,356.5 L635.7,345.7 L635.9,345.7 L636.2,343.3 L636.4,343.3 L636.7,346.0 L636.9,346.0 L637.2,345.0 L637.4,345.0 L637.7,339.3 L637.9,339.3 L638.2,354.4 L638.4,354.4 L638.6,345.8 L638.9,345.8 L639.1,333.2 L639.4,333.2 L639.6,332.7 L639.9,332.7 L640.1,333.7 L640.4,333.7 L640.6,338.2 L640.9,338.2 L641.1,337.9 L641.4,337.9 L641.6,348.6 L641.9,348.6 L642.1,340.9 L642.4,340.9 L642.6,330.2 L642.9,330.2 L643.1,331.7 L643.4,331.7 L643.6,330.0 L643.9,330.0 L644.1,334.8 L644.4,334.8 L644.6,333.5 L644.9,333.5 L645.1,349.8 L645.4,349.8 L645.6,341.0 L645.9,341.0 L646.1,326.8 L646.4,326.8 L646.6,330.4 L646.9,330.4 L647.1,328.6 L647.4,328.6 L647.6,331.1 L647.9,331.1 L648.1,334.2 L648.4,334.2 L648.6,347.1 L648.9,347.1 L649.1,337.4 L649.4,337.4 L649.6,325.1 L649.9,325.1 L650.1,329.7 L650.4,329.7 L650.6,331.9 L650.9,331.9 L651.1,330.8 L651.3,330.8 L651.6,334.8 L651.8,334.8 L652.1,345.6 L652.3,345.6 L652.6,342.9 L652.8,342.9 L653.1,329.5 L653.3,329.5 L653.6,327.2 L653.8,327.2 L654.1,333.5 L654.3,333.5 L654.6,336.7 L654.8,336.7 L655.1,335.2 L655.3,335.2 L655.6,356.0 L655.8,356.0 L656.1,346.5 L656.3,346.5 L656.6,336.2 L656.8,336.2 L657.1,342.5 L657.3,342.5 L657.6,343.5 L657.8,343.5 L658.1,350.8 L658.3,350.8 L658.6,354.0 L658.8,354.0 L659.1,364.1 L659.3,364.1 L659.6,360.5 L659.8,360.5 L660.1,352.0 L660.3,352.0 L660.6,351.0 L660.8,351.0 L661.1,353.9 L661.3,353.9 L661.6,359.0 L661.8,359.0 L662.1,359.1 L662.3,359.1 L662.6,373.0 L662.8,373.0 L663.1,366.3 L663.3,366.3 L663.5,356.7 L663.8,356.7 L664.0,353.6 L664.3,353.6 L664.5,354.3 L664.8,354.3 L665.0,359.7 L665.3,359.7 L665.5,357.5 L665.8,357.5 L666.0,364.9 L666.3,364.9 L666.5,358.1 L666.8,358.1 L667.0,342.5 L667.3,342.5 L667.5,337.2 L667.8,337.2 L668.0,338.8 L668.3,338.8 L668.5,338.4 L668.8,338.4 L669.0,339.9 L669.3,339.9 L669.5,348.5 L669.8,348.5 L670.0,337.6 L670.3,337.6 L670.5,330.1 L670.8,330.1 L671.0,330.9 L671.3,330.9 L671.5,328.4 L671.8,328.4 L672.0,330.3 L672.3,330.3 L672.5,333.3 L672.8,333.3 L673.0,343.0 L673.3,343.0 L673.5,337.8 L673.8,337.8 L674.0,324.0 L674.3,324.0 L674.5,322.8 L674.8,322.8 L675.0,322.7 L675.3,322.7 L675.5,328.9 L675.8,328.9 L676.0,331.0 L676.2,331.0 L676.5,348.2 L676.7,348.2 L677.0,336.8 L677.2,336.8 L677.5,327.6 L677.7,327.6 L678.0,328.5 L678.2,328.5 L678.5,332.1 L678.7,332.1 L679.0,336.1 L679.2,336.1 L679.5,336.3 L679.7,336.3 L680.0,348.3 L680.2,348.3 L680.5,343.1 L680.7,343.1 L681.0,329.5 L681.2,329.5 L681.5,330.9 L681.7,330.9 L682.0,329.0 L682.2,329.0 L682.5,329.4 L682.7,329.4 L683.0,335.2 L683.2,335.2 L683.5,350.6 L683.7,350.6 L684.0,341.5 L684.2,341.5 L684.5,326.2 L684.7,326.2 L685.0,326.9 L685.2,326.9 L685.5,326.4 L685.7,326.4 L686.0,330.3 L686.2,330.3 L686.5,334.2 L686.7,334.2 L687.0,352.9 L687.2,352.9 L687.5,339.0 L687.7,339.0 L688.0,334.3 L688.2,334.3 L688.5,332.2 L688.7,332.2 L688.9,333.9 L689.2,333.9 L689.4,334.4 L689.7,334.4 L689.9,342.2 L690.2,342.2 L690.4,348.3 L690.7,348.3 L690.9,342.6 L691.2,342.6 L691.4,329.4 L691.7,329.4 L691.9,327.5 L692.2,327.5 L692.4,328.0 L692.7,328.0 L692.9,334.9 L693.2,334.9 L693.4,335.6 L693.7,335.6 L693.9,347.4 L694.2,347.4 L694.4,340.0 L694.7,340.0 L694.9,323.1 L695.2,323.1 L695.4,325.9 L695.7,325.9 L695.9,327.2 L696.2,327.2 L696.4,328.8 L696.7,328.8 L696.9,337.9 L697.2,337.9 L697.4,359.2 L697.7,359.2 L697.9,350.3 L698.2,350.3 L698.4,346.0 L698.7,346.0 L698.9,347.1 L699.2,347.1 L699.4,355.3 L699.7,355.3 L699.9,357.0 L700.2,357.0 L700.4,365.1 L700.7,365.1 L700.9,380.3 L701.1,380.3 L701.4,379.6 L701.6,379.6 L701.9,369.8 L702.1,369.8 L702.4,372.1 L702.6,372.1 L702.9,372.6 L703.1,372.6 L703.4,368.1 L703.6,368.1 L703.9,370.1 L704.1,370.1 L704.4,374.7 L704.6,374.7 L704.9,365.0 L705.1,365.0 L705.4,349.4 L705.6,349.4 L705.9,344.8 L706.1,344.8 L706.4,339.7 L706.6,339.7 L706.9,338.1 L707.1,338.1 L707.4,340.8 L707.6,340.8 L707.9,349.9 L708.1,349.9 L708.4,345.9 L708.6,345.9 L708.9,331.5 L709.1,331.5 L709.4,335.7 L709.6,335.7 L709.9,335.9 L710.1,335.9 L710.4,336.2 L710.6,336.2 L710.9,336.0 L711.1,336.0 L711.4,346.0 L711.6,346.0 L711.9,341.8 L712.1,341.8 L712.4,330.9 L712.6,330.9 L712.9,332.6 L713.1,332.6 L713.4,327.6 L713.6,327.6 L713.8,328.2 L714.1,328.2 L714.3,337.2 L714.6,337.2 L714.8,347.6 L715.1,347.6 L715.3,336.9 L715.6,336.9 L715.8,326.3 L716.1,326.3 L716.3,322.7 L716.6,322.7 L716.8,325.8 L717.1,325.8 L717.3,327.5 L717.6,327.5 L717.8,328.2 L718.1,328.2 L718.3,336.0 L718.6,336.0 L718.8,326.1 L719.1,326.1 L719.3,316.2 L719.6,316.2 L719.8,317.6 L720.1,317.6 L720.3,311.3 L720.6,311.3 L720.8,310.1 L721.1,310.1 L721.3,312.0 L721.6,312.0 L721.8,328.9 L722.1,328.9 L722.3,317.3 L722.6,317.3 L722.8,306.2 L723.1,306.2 L723.3,311.9 L723.6,311.9 L723.8,310.6 L724.1,310.6 L724.3,309.7 L724.6,309.7 L724.8,316.6 L725.1,316.6 L725.3,324.3 L725.6,324.3 L725.8,318.9 L726.0,318.9 L726.3,310.6 L726.5,310.6 L726.8,308.4 L727.0,308.4 L727.3,309.3 L727.5,309.3 L727.8,315.7 L728.0,315.7 L728.3,318.5 L728.5,318.5 L728.8,338.0 L729.0,338.0 L729.3,324.3 L729.5,324.3 L729.8,319.2 L730.0,319.2 L730.3,318.2 L730.5,318.2 L730.8,324.2 L731.0,324.2 L731.3,324.3 L731.5,324.3 L731.8,330.4 L732.0,330.4 L732.3,340.5 L732.5,340.5 L732.8,330.3 L733.0,330.3 L733.3,318.8 L733.5,318.8 L733.8,321.3 L734.0,321.3 L734.3,317.7 L734.5,317.7 L734.8,317.0 L735.0,317.0 L735.3,320.2 L735.5,320.2 L735.8,329.3 L736.0,329.3 L736.3,321.7 L736.5,321.7 L736.8,310.5 L737.0,310.5 L737.3,312.0 L737.5,312.0 L737.8,315.4 L738.0,315.4 L738.2,316.1 L738.5,316.1 L738.7,318.6 L739.0,318.6 L739.2,333.2 L739.5,333.2 L739.7,329.3 L740.0,329.3 L740.2,321.2 L740.5,321.2 L740.7,329.5 L741.0,329.5 L741.2,334.2 L741.5,334.2 L741.7,345.6 L742.0,345.6 L742.2,353.0 L742.5,353.0 L742.7,372.3 L743.0,372.3 L743.2,370.6 L743.5,370.6 L743.7,356.3 L744.0,356.3 L744.2,352.6 L744.5,352.6 L744.7,349.2 L745.0,349.2 L745.2,344.9 L745.5,344.9 L745.7,349.8 L746.0,349.8 L746.2,356.6 L746.5,356.6 L746.7,341.4 L747.0,341.4 L747.2,332.1 L747.5,332.1 L747.7,326.5 L748.0,326.5 L748.2,324.3 L748.5,324.3 L748.7,322.5 L749.0,322.5 L749.2,322.3 L749.5,322.3 L749.7,341.6 L750.0,341.6 L750.2,326.3 L750.5,326.3 L750.7,315.3 L750.9,315.3 L751.2,320.6 L751.4,320.6 L751.7,314.3 L751.9,314.3 L752.2,318.3 L752.4,318.3 L752.7,320.5 L752.9,320.5 L753.2,330.9 L753.4,330.9 L753.7,325.5 L753.9,325.5 L754.2,306.0 L754.4,306.0 L754.7,302.2 L754.9,302.2 L755.2,301.9 L755.4,301.9 L755.7,296.3 L755.9,296.3 L756.2,301.5 L756.4,301.5 L756.7,312.1 L756.9,312.1 L757.2,299.8 L757.4,299.8 L757.7,279.0 L757.9,279.0 L758.2,277.8 L758.4,277.8 L758.7,271.6 L758.9,271.6 L759.2,269.9 L759.4,269.9 L759.7,267.0 L759.9,267.0 L760.2,277.3 L760.4,277.3 L760.7,265.9 L760.9,265.9 L761.2,255.8 L761.4,255.8 L761.7,251.7 L761.9,251.7 L762.2,256.8 L762.4,256.8 L762.7,249.0 L762.9,249.0 L763.1,257.3 L763.4,257.3 L763.6,262.1 L763.9,262.1 L764.1,251.2 L764.4,251.2 L764.6,242.5 L764.9,242.5 L765.1,239.5 L765.4,239.5 L765.6,237.5 L765.9,237.5 L766.1,236.8 L766.4,236.8 L766.6,239.8 L766.9,239.8 L767.1,242.8 L767.4,242.8 L767.6,258.2 L767.9,258.2 L768.1,247.6 L768.4,247.6 L768.6,254.2 L768.9,254.2 L769.1,250.5 L769.4,250.5 L769.6,254.1 L769.9,254.1 L770.1,264.0 L770.4,264.0 L770.6,281.0 L770.9,281.0 L771.1,270.9 L771.4,270.9 L771.6,263.0 L771.9,263.0 L772.1,264.5 L772.4,264.5 L772.6,266.2 L772.9,266.2 L773.1,270.1 L773.4,270.1 L773.6,275.8 L773.9,275.8 L774.1,285.9 L774.4,285.9 L774.6,281.8 L774.9,281.8 L775.1,274.9 L775.4,274.9 L775.6,273.8 L775.8,273.8 L776.1,278.5 L776.3,278.5 L776.6,276.9 L776.8,276.9 L777.1,278.3 L777.3,278.3 L777.6,291.3 L777.8,291.3 L778.1,281.6 L778.3,281.6 L778.6,269.0 L778.8,269.0 L779.1,263.7 L779.3,263.7 L779.6,260.6 L779.8,260.6 L780.1,260.9 L780.3,260.9 L780.6,259.3 L780.8,259.3 L781.1,272.0 L781.3,272.0 L781.6,268.3 L781.8,268.3 L782.1,258.2 L782.3,258.2 L782.6,257.9 L782.8,257.9 L783.1,260.4 L783.3,260.4 L783.6,262.9 L783.8,262.9 L784.1,268.2 L784.3,268.2 L784.6,285.4 L784.8,285.4 L785.1,277.0 L785.3,277.0 L785.6,271.6 L785.8,271.6 L786.1,271.3 L786.3,271.3 L786.6,269.3 L786.8,269.3 L787.1,270.0 L787.3,270.0 L787.6,268.3 L787.8,268.3 L788.0,285.2 L788.3,285.2 L788.5,275.8 L788.8,275.8 L789.0,259.1 L789.3,259.1 L789.5,261.3 L789.8,261.3 L790.0,257.5 L790.3,257.5 L790.5,257.0 L790.8,257.0 L791.0,258.6 L791.3,258.6 L791.5,271.0 L791.8,271.0 L792.0,265.9 L792.3,265.9 L792.5,253.9 L792.8,253.9 L793.0,255.2 L793.3,255.2 L793.5,251.3 L793.8,251.3 L794.0,257.8 L794.3,257.8 L794.5,258.2 L794.8,258.2 L795.0,269.8 L795.3,269.8 L795.5,258.7 L795.8,258.7 L796.0,241.9 L796.3,241.9 L796.5,237.3 L796.8,237.3 L797.0,235.6 L797.3,235.6 L797.5,235.3 L797.8,235.3 L798.0,245.9 L798.3,245.9 L798.5,267.4 L798.8,267.4 L799.0,260.6 L799.3,260.6 L799.5,254.5 L799.8,254.5 L800.0,255.1 L800.3,255.1 L800.5,256.1 L800.7,256.1 L801.0,260.2 L801.2,260.2 L801.5,256.8 L801.7,256.8 L802.0,275.2 L802.2,275.2 L802.5,262.8 L802.7,262.8 L803.0,241.1 L803.2,241.1 L803.5,238.4 L803.7,238.4 L804.0,237.1 L804.2,237.1 L804.5,222.0 L804.7,222.0 L805.0,217.8 L805.2,217.8 L805.5,230.3 L805.7,230.3 L806.0,218.0 L806.2,218.0 L806.5,205.0 L806.7,205.0 L807.0,204.6 L807.2,204.6 L807.5,210.1 L807.7,210.1 L808.0,208.0 L808.2,208.0 L808.5,209.6 L808.7,209.6 L809.0,223.1 L809.2,223.1 L809.5,218.5 L809.7,218.5 L810.0,201.6 L810.2,201.6 L810.5,201.1 L810.7,201.1 L811.0,207.6 L811.2,207.6 L811.5,203.7 L811.7,203.7 L812.0,207.6 L812.2,207.6 L812.5,225.9 L812.7,225.9 L813.0,213.0 L813.2,213.0 L813.4,202.5 L813.7,202.5 L813.9,208.2 L814.2,208.2 L814.4,205.1 L814.7,205.1 L814.9,207.2 L815.2,207.2 L815.4,216.6 L815.7,216.6 L815.9,224.6 L816.2,224.6 L816.4,222.6 L816.7,222.6 L816.9,207.7 L817.2,207.7 L817.4,209.4 L817.7,209.4 L817.9,211.4 L818.2,211.4 L818.4,217.0 L818.7,217.0 L818.9,221.5 L819.2,221.5 L819.4,234.5 L819.7,234.5 L819.9,228.7 L820.2,228.7 L820.4,217.0 L820.7,217.0 L820.9,223.0 L821.2,223.0 L821.4,226.4 L821.7,226.4 L821.9,225.6 L822.2,225.6 L822.4,228.1 L822.7,228.1 L822.9,234.2 L823.2,234.2 L823.4,226.6 L823.7,226.6 L823.9,214.6 L824.2,214.6 L824.4,213.6 L824.7,213.6 L824.9,219.8 L825.2,219.8 L825.4,219.9 L825.6,219.9 L825.9,222.0 L826.1,222.0 L826.4,231.1 L826.6,231.1 L826.9,218.6 L827.1,218.6 L827.4,208.1 L827.6,208.1 L827.9,206.7 L828.1,206.7 L828.4,213.7 L828.6,213.7 L828.9,210.8 L829.1,210.8 L829.4,214.6 L829.6,214.6 L829.9,233.6 L830.1,233.6 L830.4,220.3 L830.6,220.3 L830.9,214.7 L831.1,214.7 L831.4,211.5 L831.6,211.5 L831.9,216.4 L832.1,216.4 L832.4,214.2 L832.6,214.2 L832.9,224.1 L833.1,224.1 L833.4,232.9 L833.6,232.9 L833.9,224.1 L834.1,224.1 L834.4,214.3 L834.6,214.3 L834.9,214.5 L835.1,214.5 L835.4,212.8 L835.6,212.8 L835.9,213.1 L836.1,213.1 L836.4,219.3 L836.6,219.3 L836.9,227.6 L837.1,227.6 L837.4,226.1 L837.6,226.1 L837.9,209.9 L838.1,209.9 L838.3,210.5 L838.6,210.5 L838.8,213.2 L839.1,213.2 L839.3,213.8 L839.6,213.8 L839.8,219.0 L840.1,219.0 L840.3,234.5 L840.6,234.5 L840.8,226.1 L841.1,226.1 L841.3,214.5 L841.6,214.5 L841.8,215.5 L842.1,215.5 L842.3,219.1 L842.6,219.1 L842.8,223.5 L843.1,223.5 L843.3,223.5 L843.6,223.5 L843.8,239.0 L844.1,239.0 L844.3,228.5 L844.6,228.5 L844.8,215.4 L845.1,215.4 L845.3,215.2 L845.6,215.2 L845.8,221.2 L846.1,221.2 L846.3,219.7 L846.6,219.7 L846.8,221.7 L847.1,221.7 L847.3,235.6 L847.6,235.6 L847.8,230.0 L848.1,230.0 L848.3,214.0 L848.6,214.0 L848.8,214.7 L849.1,214.7 L849.3,216.0 L849.6,216.0 L849.8,214.5 L850.1,214.5 L850.3,221.6 L850.5,221.6 L850.8,233.9 L851.0,233.9 L851.3,232.1 L851.5,232.1 L851.8,227.5 L852.0,227.5 L852.3,236.4 L852.5,236.4 L852.8,247.5 L853.0,247.5 L853.3,252.5 L853.5,252.5 L853.8,269.6 L854.0,269.6 L854.3,268.0 L854.5,268.0 L854.8,257.8 L855.0,257.8 L855.3,233.7 L855.5,233.7 L855.8,229.9 L856.0,229.9 L856.3,218.9 L856.5,218.9 L856.8,210.8 L857.0,210.8 L857.3,209.3 L857.5,209.3 L857.8,217.6 L858.0,217.6 L858.3,209.2 L858.5,209.2 L858.8,196.9 L859.0,196.9 L859.3,198.2 L859.5,198.2 L859.8,192.5 L860.0,192.5 L860.3,198.2 L860.5,198.2 L860.8,200.7 L861.0,200.7 L861.3,220.6 L861.5,220.6 L861.8,211.8 L862.0,211.8 L862.3,200.3 L862.5,200.3 L862.8,196.6 L863.0,196.6 L863.2,194.4 L863.5,194.4 L863.7,188.2 L864.0,188.2 L864.2,187.6 L864.5,187.6 L864.7,197.3 L865.0,197.3 L865.2,186.8 L865.5,186.8 L865.7,182.6 L866.0,182.6 L866.2,179.8 L866.5,179.8 L866.7,181.2 L867.0,181.2 L867.2,190.1 L867.5,190.1 L867.7,189.1 L868.0,189.1 L868.2,205.4 L868.5,205.4 L868.7,192.6 L869.0,192.6 L869.2,183.6 L869.5,183.6 L869.7,187.6 L870.0,187.6 L870.2,184.1 L870.5,184.1 L870.7,189.4 L871.0,189.4 L871.2,197.0 L871.5,197.0 L871.7,206.4 L872.0,206.4 L872.2,204.6 L872.5,204.6 L872.7,195.1 L873.0,195.1 L873.2,197.4 L873.5,197.4 L873.7,202.2 L874.0,202.2 L874.2,203.4 L874.5,203.4 L874.7,197.9 L875.0,197.9 L875.2,209.4 L875.4,209.4 L875.7,201.2 L875.9,201.2 L876.2,189.7 L876.4,189.7 L876.7,181.9 L876.9,181.9 L877.2,183.6 L877.4,183.6 L877.7,179.6 L877.9,179.6 L878.2,186.4 L878.4,186.4 L878.7,194.2 L878.9,194.2 L879.2,184.8 L879.4,184.8 L879.7,172.0 L879.9,172.0 L880.2,168.2 L880.4,168.2 L880.7,172.0 L880.9,172.0 L881.2,172.8 L881.4,172.8 L881.7,174.9 L881.9,174.9 L882.2,181.9 L882.4,181.9 L882.7,172.2 L882.9,172.2 L883.2,160.4 L883.4,160.4 L883.7,164.6 L883.9,164.6 L884.2,161.3 L884.4,161.3 L884.7,161.6 L884.9,161.6 L885.2,164.6 L885.4,164.6 L885.7,178.1 L885.9,178.1 L886.2,160.0 L886.4,160.0 L886.7,135.8 L886.9,135.8 L887.2,125.7 L887.4,125.7 L887.6,118.6 L887.9,118.6 L888.1,111.5 L888.4,111.5 L888.6,114.2 L888.9,114.2 L889.1,121.3 L889.4,121.3 L889.6,139.5 L889.9,139.5 L890.1,127.4 L890.4,127.4 L890.6,127.8 L890.9,127.8 L891.1,134.6 L891.4,134.6 L891.6,133.4 L891.9,133.4 L892.1,136.8 L892.4,136.8 L892.6,151.3 L892.9,151.3 L893.1,153.4 L893.4,153.4 L893.6,151.5 L893.9,151.5 L894.1,154.8 L894.4,154.8 L894.6,163.0 L894.9,163.0 L895.1,164.4 L895.4,164.4 L895.6,168.0 L895.9,168.0 L896.1,183.9 L896.4,183.9 L896.6,173.8 L896.9,173.8 L897.1,160.2 L897.4,160.2 L897.6,158.6 L897.9,158.6 L898.1,158.6 L898.4,158.6 L898.6,158.2 L898.9,158.2 L899.1,162.4 L899.4,162.4 L899.6,169.3 L899.9,169.3 L900.1,165.0 L900.3,165.0 L900.6,148.7 L900.8,148.7 L901.1,152.4 L901.3,152.4 L901.6,146.6 L901.8,146.6 L902.1,149.0 L902.3,149.0 L902.6,148.7 L902.8,148.7 L903.1,160.9 L903.3,160.9 L903.6,145.9 L903.8,145.9 L904.1,132.4 L904.3,132.4 L904.6,133.1 L904.8,133.1 L905.1,138.7 L905.3,138.7 L905.6,142.3 L905.8,142.3 L906.1,142.4 L906.3,142.4 L906.6,158.6 L906.8,158.6 L907.1,151.8 L907.3,151.8 L907.6,146.9 L907.8,146.9 L908.1,144.8 L908.3,144.8 L908.6,148.1 L908.8,148.1 L909.1,148.7 L909.3,148.7 L909.6,157.2 L909.8,157.2 L910.1,174.1 L910.3,174.1 L910.6,167.6 L910.8,167.6 L911.1,154.3 L911.3,154.3 L911.6,153.4 L911.8,153.4 L912.1,152.8 L912.3,152.8 L912.5,148.5 L912.8,148.5 L913.0,158.5 L913.3,158.5 L913.5,170.2 L913.8,170.2 L914.0,164.5 L914.3,164.5 L914.5,157.7 L914.8,157.7 L915.0,160.7 L915.3,160.7 L915.5,161.4 L915.8,161.4 L916.0,165.9 L916.3,165.9 L916.5,166.2 L916.8,166.2 L917.0,177.7 L917.3,177.7 L917.5,167.5 L917.8,167.5 L918.0,159.4 L918.3,159.4 L918.5,158.9 L918.8,158.9 L919.0,160.7 L919.3,160.7 L919.5,158.4 L919.8,158.4 L920.0,156.4 L920.3,156.4 L920.5,167.3 L920.8,167.3 L921.0,158.0 L921.3,158.0 L921.5,146.0 L921.8,146.0 L922.0,150.0 L922.3,150.0 L922.5,148.5 L922.8,148.5 L923.0,146.5 L923.3,146.5 L923.5,152.4 L923.8,152.4 L924.0,164.0 L924.3,164.0 L924.5,150.6 L924.8,150.6 L925.0,143.3 L925.2,143.3 L925.5,139.3 L925.7,139.3 L926.0,145.6 L926.2,145.6 L926.5,139.4 L926.7,139.4 L927.0,143.4 L927.2,143.4 L927.5,157.3 L927.7,157.3 L928.0,155.4 L928.2,155.4 L928.5,144.3 L928.7,144.3 L929.0,144.6 L929.2,144.6 L929.5,144.2 L929.7,144.2 L930.0,149.8 L930.2,149.8 L930.5,156.6 L930.7,156.6 L931.0,166.2 L931.2,166.2 L931.5,163.6 L931.7,163.6 L932.0,149.2 L932.2,149.2 L932.5,149.3 L932.7,149.3 L933.0,147.1 L933.2,147.1 L933.5,146.4 L933.7,146.4 L934.0,149.8 L934.2,149.8 L934.5,154.7 L934.7,154.7 L935.0,144.6 L935.2,144.6 L935.5,130.7 L935.7,130.7 L936.0,128.3 L936.2,128.3 L936.5,131.6 L936.7,131.6 L937.0,136.7 L937.2,136.7 L937.5,155.3 L937.7,155.3 L937.9,175.8 L938.2,175.8 L938.4,181.3 L938.7,181.3 L938.9,171.2 L939.2,171.2 L939.4,174.5 L939.7,174.5 L939.9,180.0 L940.2,180.0 L940.4,178.1 L940.7,178.1 L940.9,185.8 L941.2,185.8 L941.4,197.8 L941.7,197.8 L941.9,187.8 L942.2,187.8 L942.4,175.2 L942.7,175.2 L942.9,175.4 L943.2,175.4 L943.4,170.1 L943.7,170.1 L943.9,167.0 L944.2,167.0 L944.4,162.0 L944.7,162.0 L944.9,166.1 L945.2,166.1 L945.4,153.2 L945.7,153.2 L945.9,137.9 L946.2,137.9 L946.4,135.7 L946.7,135.7 L946.9,129.7 L947.2,129.7 L947.4,127.4 L947.7,127.4 L947.9,128.7 L948.2,128.7 L948.4,135.8 L948.7,135.8 L948.9,116.8 L949.2,116.8 L949.4,112.6 L949.7,112.6 L949.9,112.4 L950.1,112.4 L950.4,110.2 L950.6,110.2 L950.9,115.0 L951.1,115.0 L951.4,124.7 L951.6,124.7 L951.9,154.3 L952.1,154.3 L952.4,166.6 L952.6,166.6 L952.9,170.4 L953.1,170.4 L953.4,183.1 L953.6,183.1 L953.9,200.1 L954.1,200.1 L954.4,215.2 L954.6,215.2 L954.9,219.7 L955.1,219.7 L955.4,240.3 L955.6,240.3 L955.9,234.7 L956.1,234.7 L956.4,226.4 L956.6,226.4 L956.9,227.9 L957.1,227.9 L957.4,228.7 L957.6,228.7 L957.9,232.0 L958.1,232.0 L958.4,242.0 L958.6,242.0 L958.9,255.0 L959.1,255.0 L959.4,254.8 L959.6,254.8 L959.9,243.5 L960.1,243.5 L960.4,248.6 L960.6,248.6 L960.9,248.3 L961.1,248.3 L961.4,251.5 L961.6,251.5 L961.9,261.4 L962.1,261.4 L962.4,274.3 L962.6,274.3 L962.8,264.0 L963.1,264.0 L963.3,253.5 L963.6,253.5 L963.5,480.6 Z" fill="#ecac57"/>
<path d="M53.5,480.6 L53.5,438.0 L53.7,438.0 L54.0,432.5 L54.2,432.5 L54.5,426.0 L54.7,426.0 L55.0,421.7 L55.2,421.7 L55.5,421.8 L55.7,421.8 L56.0,425.7 L56.2,425.7 L56.5,418.3 L56.7,418.3 L57.0,412.7 L57.2,412.7 L57.5,410.4 L57.7,410.4 L58.0,411.7 L58.2,411.7 L58.5,417.4 L58.7,417.4 L59.0,416.9 L59.2,416.9 L59.5,428.2 L59.7,428.2 L60.0,420.2 L60.2,420.2 L60.5,412.2 L60.7,412.2 L61.0,410.0 L61.2,410.0 L61.5,415.4 L61.7,415.4 L62.0,420.1 L62.2,420.1 L62.5,422.5 L62.7,422.5 L63.0,433.7 L63.2,433.7 L63.5,431.9 L63.7,431.9 L64.0,427.7 L64.2,427.7 L64.5,433.6 L64.7,433.6 L65.0,437.5 L65.2,437.5 L65.5,441.0 L65.7,441.0 L66.0,444.7 L66.2,444.7 L66.4,454.8 L66.7,454.8 L66.9,454.0 L67.2,454.0 L67.4,454.4 L67.7,454.4 L67.9,455.5 L68.2,455.5 L68.4,455.8 L68.7,455.8 L68.9,456.8 L69.2,456.8 L69.4,456.7 L69.7,456.7 L69.9,460.9 L70.2,460.9 L70.4,458.0 L70.7,458.0 L70.9,455.8 L71.2,455.8 L71.4,455.8 L71.7,455.8 L71.9,454.4 L72.2,454.4 L72.4,454.7 L72.7,454.7 L72.9,455.5 L73.2,455.5 L73.4,460.5 L73.7,460.5 L73.9,457.1 L74.2,457.1 L74.4,454.1 L74.7,454.1 L74.9,453.5 L75.2,453.5 L75.4,454.2 L75.7,454.2 L75.9,454.2 L76.2,454.2 L76.4,454.8 L76.7,454.8 L76.9,458.8 L77.2,458.8 L77.4,456.5 L77.7,456.5 L77.9,453.7 L78.2,453.7 L78.4,449.0 L78.6,449.0 L78.9,445.8 L79.1,445.8 L79.4,442.0 L79.6,442.0 L79.9,442.6 L80.1,442.6 L80.4,446.9 L80.6,446.9 L80.9,441.4 L81.1,441.4 L81.4,438.3 L81.6,438.3 L81.9,438.8 L82.1,438.8 L82.4,438.9 L82.6,438.9 L82.9,438.2 L83.1,438.2 L83.4,439.8 L83.6,439.8 L83.9,443.6 L84.1,443.6 L84.4,442.0 L84.6,442.0 L84.9,435.2 L85.1,435.2 L85.4,434.3 L85.6,434.3 L85.9,433.9 L86.1,433.9 L86.4,437.3 L86.6,437.3 L86.9,438.9 L87.1,438.9 L87.4,441.4 L87.6,441.4 L87.9,440.2 L88.1,440.2 L88.4,433.2 L88.6,433.2 L88.9,433.3 L89.1,433.3 L89.4,434.3 L89.6,434.3 L89.9,437.0 L90.1,437.0 L90.4,439.0 L90.6,439.0 L90.8,442.1 L91.1,442.1 L91.3,440.7 L91.6,440.7 L91.8,434.4 L92.1,434.4 L92.3,436.3 L92.6,436.3 L92.8,435.7 L93.1,435.7 L93.3,438.7 L93.6,438.7 L93.8,440.6 L94.1,440.6 L94.3,444.9 L94.6,444.9 L94.8,443.2 L95.1,443.2 L95.3,435.8 L95.6,435.8 L95.8,436.0 L96.1,436.0 L96.3,437.9 L96.6,437.9 L96.8,436.7 L97.1,436.7 L97.3,438.7 L97.6,438.7 L97.8,445.3 L98.1,445.3 L98.3,442.6 L98.6,442.6 L98.8,436.5 L99.1,436.5 L99.3,436.6 L99.6,436.6 L99.8,439.5 L100.1,439.5 L100.3,438.3 L100.6,438.3 L100.8,442.0 L101.1,442.0 L101.3,447.5 L101.6,447.5 L101.8,442.3 L102.1,442.3 L102.3,437.4 L102.6,437.4 L102.8,438.1 L103.1,438.1 L103.3,439.3 L103.5,439.3 L103.8,439.9 L104.0,439.9 L104.3,441.1 L104.5,441.1 L104.8,447.0 L105.0,447.0 L105.3,444.7 L105.5,444.7 L105.8,437.7 L106.0,437.7 L106.3,435.5 L106.5,435.5 L106.8,434.8 L107.0,434.8 L107.3,431.3 L107.5,431.3 L107.8,430.8 L108.0,430.8 L108.3,438.7 L108.5,438.7 L108.8,430.1 L109.0,430.1 L109.3,420.8 L109.5,420.8 L109.8,417.5 L110.0,417.5 L110.3,416.8 L110.5,416.8 L110.8,416.4 L111.0,416.4 L111.3,413.0 L111.5,413.0 L111.8,423.6 L112.0,423.6 L112.3,415.8 L112.5,415.8 L112.8,406.1 L113.0,406.1 L113.3,409.5 L113.5,409.5 L113.8,410.8 L114.0,410.8 L114.3,414.3 L114.5,414.3 L114.8,415.7 L115.0,415.7 L115.3,427.7 L115.5,427.7 L115.8,422.7 L116.0,422.7 L116.2,410.9 L116.5,410.9 L116.7,409.4 L117.0,409.4 L117.2,411.3 L117.5,411.3 L117.7,412.7 L118.0,412.7 L118.2,409.2 L118.5,409.2 L118.7,419.1 L119.0,419.1 L119.2,412.3 L119.5,412.3 L119.7,399.9 L120.0,399.9 L120.2,399.1 L120.5,399.1 L120.7,398.3 L121.0,398.3 L121.2,398.5 L121.5,398.5 L121.7,401.2 L122.0,401.2 L122.2,409.2 L122.5,409.2 L122.7,401.3 L123.0,401.3 L123.2,391.8 L123.5,391.8 L123.7,387.3 L124.0,387.3 L124.2,391.6 L124.5,391.6 L124.7,395.4 L125.0,395.4 L125.2,396.0 L125.5,396.0 L125.7,408.1 L126.0,408.1 L126.2,406.0 L126.5,406.0 L126.7,393.5 L127.0,393.5 L127.2,394.6 L127.5,394.6 L127.7,398.2 L128.0,398.2 L128.2,402.4 L128.4,402.4 L128.7,402.0 L128.9,402.0 L129.2,413.0 L129.4,413.0 L129.7,405.0 L129.9,405.0 L130.2,396.8 L130.4,396.8 L130.7,393.4 L130.9,393.4 L131.2,396.3 L131.4,396.3 L131.7,391.3 L131.9,391.3 L132.2,393.9 L132.4,393.9 L132.7,407.2 L132.9,407.2 L133.2,400.2 L133.4,400.2 L133.7,383.9 L133.9,383.9 L134.2,381.8 L134.4,381.8 L134.7,380.7 L134.9,380.7 L135.2,384.1 L135.4,384.1 L135.7,382.9 L135.9,382.9 L136.2,399.4 L136.4,399.4 L136.7,390.1 L136.9,390.1 L137.2,373.0 L137.4,373.0 L137.7,371.7 L137.9,371.7 L138.2,375.9 L138.4,375.9 L138.7,374.4 L138.9,374.4 L139.2,376.4 L139.4,376.4 L139.7,383.3 L139.9,383.3 L140.2,371.3 L140.4,371.3 L140.7,358.9 L140.9,358.9 L141.1,360.9 L141.4,360.9 L141.6,355.8 L141.9,355.8 L142.1,355.7 L142.4,355.7 L142.6,351.6 L142.9,351.6 L143.1,349.2 L143.4,349.2 L143.6,350.1 L143.9,350.1 L144.1,354.5 L144.4,354.5 L144.6,356.8 L144.9,356.8 L145.1,361.2 L145.4,361.2 L145.6,374.1 L145.9,374.1 L146.1,381.0 L146.4,381.0 L146.6,399.2 L146.9,399.2 L147.1,387.0 L147.4,387.0 L147.6,378.5 L147.9,378.5 L148.1,378.7 L148.4,378.7 L148.6,373.8 L148.9,373.8 L149.1,379.0 L149.4,379.0 L149.6,382.1 L149.9,382.1 L150.1,393.1 L150.4,393.1 L150.6,383.4 L150.9,383.4 L151.1,369.6 L151.4,369.6 L151.6,369.7 L151.9,369.7 L152.1,371.7 L152.4,371.7 L152.6,373.4 L152.9,373.4 L153.1,382.0 L153.3,382.0 L153.6,394.0 L153.8,394.0 L154.1,391.6 L154.3,391.6 L154.6,377.5 L154.8,377.5 L155.1,383.7 L155.3,383.7 L155.6,382.2 L155.8,382.2 L156.1,384.4 L156.3,384.4 L156.6,386.0 L156.8,386.0 L157.1,397.8 L157.3,397.8 L157.6,386.0 L157.8,386.0 L158.1,371.2 L158.3,371.2 L158.6,373.9 L158.8,373.9 L159.1,369.5 L159.3,369.5 L159.6,370.9 L159.8,370.9 L160.1,376.9 L160.3,376.9 L160.6,390.0 L160.8,390.0 L161.1,382.3 L161.3,382.3 L161.6,375.6 L161.8,375.6 L162.1,375.2 L162.3,375.2 L162.6,375.6 L162.8,375.6 L163.1,377.6 L163.3,377.6 L163.6,386.7 L163.8,386.7 L164.1,397.8 L164.3,397.8 L164.6,393.4 L164.8,393.4 L165.1,377.4 L165.3,377.4 L165.6,374.7 L165.8,374.7 L166.0,375.7 L166.3,375.7 L166.5,376.9 L166.8,376.9 L167.0,372.1 L167.3,372.1 L167.5,387.4 L167.8,387.4 L168.0,377.8 L168.3,377.8 L168.5,362.2 L168.8,362.2 L169.0,360.6 L169.3,360.6 L169.5,353.4 L169.8,353.4 L170.0,358.4 L170.3,358.4 L170.5,363.1 L170.8,363.1 L171.0,369.4 L171.3,369.4 L171.5,363.0 L171.8,363.0 L172.0,351.7 L172.3,351.7 L172.5,353.7 L172.8,353.7 L173.0,354.1 L173.3,354.1 L173.5,356.0 L173.8,356.0 L174.0,361.2 L174.3,361.2 L174.5,367.8 L174.8,367.8 L175.0,361.8 L175.3,361.8 L175.5,354.2 L175.8,354.2 L176.0,356.0 L176.3,356.0 L176.5,357.8 L176.8,357.8 L177.0,368.5 L177.3,368.5 L177.5,372.4 L177.8,372.4 L178.0,381.0 L178.2,381.0 L178.5,378.2 L178.7,378.2 L179.0,367.0 L179.2,367.0 L179.5,369.4 L179.7,369.4 L180.0,368.8 L180.2,368.8 L180.5,370.4 L180.7,370.4 L181.0,370.6 L181.2,370.6 L181.5,379.5 L181.7,379.5 L182.0,367.8 L182.2,367.8 L182.5,355.0 L182.7,355.0 L183.0,352.6 L183.2,352.6 L183.5,354.2 L183.7,354.2 L184.0,354.7 L184.2,354.7 L184.5,353.0 L184.7,353.0 L185.0,363.5 L185.2,363.5 L185.5,356.2 L185.7,356.2 L186.0,345.6 L186.2,345.6 L186.5,348.3 L186.7,348.3 L187.0,351.0 L187.2,351.0 L187.5,349.3 L187.7,349.3 L188.0,355.5 L188.2,355.5 L188.5,366.9 L188.7,366.9 L189.0,357.3 L189.2,357.3 L189.5,344.7 L189.7,344.7 L190.0,346.5 L190.2,346.5 L190.4,349.5 L190.7,349.5 L190.9,348.7 L191.2,348.7 L191.4,354.3 L191.7,354.3 L191.9,365.9 L192.2,365.9 L192.4,356.6 L192.7,356.6 L192.9,347.4 L193.2,347.4 L193.4,350.2 L193.7,350.2 L193.9,347.1 L194.2,347.1 L194.4,352.0 L194.7,352.0 L194.9,355.5 L195.2,355.5 L195.4,372.6 L195.7,372.6 L195.9,365.6 L196.2,365.6 L196.4,351.6 L196.7,351.6 L196.9,359.3 L197.2,359.3 L197.4,362.4 L197.7,362.4 L197.9,362.3 L198.2,362.3 L198.4,369.4 L198.7,369.4 L198.9,382.2 L199.2,382.2 L199.4,380.4 L199.7,380.4 L199.9,365.7 L200.2,365.7 L200.4,367.0 L200.7,367.0 L200.9,366.1 L201.2,366.1 L201.4,365.1 L201.7,365.1 L201.9,367.1 L202.2,367.1 L202.4,377.2 L202.7,377.2 L202.9,364.0 L203.1,364.0 L203.4,354.4 L203.6,354.4 L203.9,351.1 L204.1,351.1 L204.4,352.3 L204.6,352.3 L204.9,360.1 L205.1,360.1 L205.4,358.5 L205.6,358.5 L205.9,373.1 L206.1,373.1 L206.4,366.3 L206.6,366.3 L206.9,361.8 L207.1,361.8 L207.4,357.0 L207.6,357.0 L207.9,355.6 L208.1,355.6 L208.4,362.0 L208.6,362.0 L208.9,357.9 L209.1,357.9 L209.4,375.3 L209.6,375.3 L209.9,364.6 L210.1,364.6 L210.4,352.5 L210.6,352.5 L210.9,353.1 L211.1,353.1 L211.4,350.1 L211.6,350.1 L211.9,351.5 L212.1,351.5 L212.4,346.4 L212.6,346.4 L212.9,363.3 L213.1,363.3 L213.4,351.3 L213.6,351.3 L213.9,338.9 L214.1,338.9 L214.4,334.2 L214.6,334.2 L214.9,337.6 L215.1,337.6 L215.3,338.7 L215.6,338.7 L215.8,331.5 L216.1,331.5 L216.3,343.2 L216.6,343.2 L216.8,333.7 L217.1,333.7 L217.3,320.5 L217.6,320.5 L217.8,313.5 L218.1,313.5 L218.3,311.0 L218.6,311.0 L218.8,309.7 L219.1,309.7 L219.3,312.5 L219.6,312.5 L219.8,326.4 L220.1,326.4 L220.3,315.3 L220.6,315.3 L220.8,303.0 L221.1,303.0 L221.3,303.9 L221.6,303.9 L221.8,304.8 L222.1,304.8 L222.3,306.7 L222.6,306.7 L222.8,306.8 L223.1,306.8 L223.3,323.0 L223.6,323.0 L223.8,318.5 L224.1,318.5 L224.3,301.9 L224.6,301.9 L224.8,305.3 L225.1,305.3 L225.3,301.8 L225.6,301.8 L225.8,307.5 L226.1,307.5 L226.3,310.8 L226.6,310.8 L226.8,322.9 L227.1,322.9 L227.3,313.3 L227.6,313.3 L227.8,299.8 L228.0,299.8 L228.3,300.8 L228.5,300.8 L228.8,303.0 L229.0,303.0 L229.3,297.3 L229.5,297.3 L229.8,295.9 L230.0,295.9 L230.3,294.6 L230.5,294.6 L230.8,295.0 L231.0,295.0 L231.3,294.5 L231.5,294.5 L231.8,295.3 L232.0,295.3 L232.3,299.3 L232.5,299.3 L232.8,297.1 L233.0,297.1 L233.3,301.1 L233.5,301.1 L233.8,314.0 L234.0,314.0 L234.3,309.7 L234.5,309.7 L234.8,298.3 L235.0,298.3 L235.3,300.6 L235.5,300.6 L235.8,307.8 L236.0,307.8 L236.3,313.8 L236.5,313.8 L236.8,314.7 L237.0,314.7 L237.3,335.9 L237.5,335.9 L237.8,330.5 L238.0,330.5 L238.3,326.4 L238.5,326.4 L238.8,326.3 L239.0,326.3 L239.3,326.2 L239.5,326.2 L239.8,328.6 L240.0,328.6 L240.2,332.2 L240.5,332.2 L240.7,351.1 L241.0,351.1 L241.2,344.5 L241.5,344.5 L241.7,334.6 L242.0,334.6 L242.2,337.7 L242.5,337.7 L242.7,341.0 L243.0,341.0 L243.2,348.5 L243.5,348.5 L243.7,348.7 L244.0,348.7 L244.2,370.8 L244.5,370.8 L244.7,361.0 L245.0,361.0 L245.2,352.2 L245.5,352.2 L245.7,354.5 L246.0,354.5 L246.2,360.0 L246.5,360.0 L246.7,361.2 L247.0,361.2 L247.2,361.8 L247.5,361.8 L247.7,374.0 L248.0,374.0 L248.2,367.7 L248.5,367.7 L248.7,356.5 L249.0,356.5 L249.2,353.6 L249.5,353.6 L249.7,357.4 L250.0,357.4 L250.2,361.2 L250.5,361.2 L250.7,361.5 L251.0,361.5 L251.2,373.9 L251.5,373.9 L251.7,367.2 L252.0,367.2 L252.2,360.3 L252.5,360.3 L252.7,362.2 L252.9,362.2 L253.2,367.1 L253.4,367.1 L253.7,369.1 L253.9,369.1 L254.2,367.9 L254.4,367.9 L254.7,380.9 L254.9,380.9 L255.2,373.7 L255.4,373.7 L255.7,363.0 L255.9,363.0 L256.2,367.0 L256.4,367.0 L256.7,370.0 L256.9,370.0 L257.2,372.2 L257.4,372.2 L257.7,370.4 L257.9,370.4 L258.2,388.6 L258.4,388.6 L258.7,376.8 L258.9,376.8 L259.2,367.8 L259.4,367.8 L259.7,373.3 L259.9,373.3 L260.2,371.6 L260.4,371.6 L260.7,375.4 L260.9,375.4 L261.2,386.4 L261.4,386.4 L261.7,397.2 L261.9,397.2 L262.2,391.8 L262.4,391.8 L262.7,383.8 L262.9,383.8 L263.2,387.6 L263.4,387.6 L263.7,386.4 L263.9,386.4 L264.2,389.3 L264.4,389.3 L264.7,386.6 L264.9,386.6 L265.1,393.4 L265.4,393.4 L265.6,376.5 L265.9,376.5 L266.1,360.8 L266.4,360.8 L266.6,358.1 L266.9,358.1 L267.1,348.3 L267.4,348.3 L267.6,346.8 L267.9,346.8 L268.1,342.4 L268.4,342.4 L268.6,352.6 L268.9,352.6 L269.1,343.7 L269.4,343.7 L269.6,325.8 L269.9,325.8 L270.1,334.2 L270.4,334.2 L270.6,339.1 L270.9,339.1 L271.1,337.6 L271.4,337.6 L271.6,350.7 L271.9,350.7 L272.1,362.5 L272.4,362.5 L272.6,359.7 L272.9,359.7 L273.1,345.6 L273.4,345.6 L273.6,340.9 L273.9,340.9 L274.1,343.4 L274.4,343.4 L274.6,342.8 L274.9,342.8 L275.1,345.1 L275.4,345.1 L275.6,352.2 L275.9,352.2 L276.1,346.5 L276.4,346.5 L276.6,334.6 L276.9,334.6 L277.1,331.7 L277.4,331.7 L277.6,330.4 L277.8,330.4 L278.1,327.4 L278.3,327.4 L278.6,332.2 L278.8,332.2 L279.1,342.9 L279.3,342.9 L279.6,336.5 L279.8,336.5 L280.1,323.0 L280.3,323.0 L280.6,321.9 L280.8,321.9 L281.1,323.6 L281.3,323.6 L281.6,332.5 L281.8,332.5 L282.1,338.9 L282.3,338.9 L282.6,351.9 L282.8,351.9 L283.1,353.1 L283.3,353.1 L283.6,342.8 L283.8,342.8 L284.1,344.2 L284.3,344.2 L284.6,354.7 L284.8,354.7 L285.1,353.7 L285.3,353.7 L285.6,361.9 L285.8,361.9 L286.1,381.6 L286.3,381.6 L286.6,376.3 L286.8,376.3 L287.1,366.1 L287.3,366.1 L287.6,366.9 L287.8,366.9 L288.1,365.8 L288.3,365.8 L288.6,365.3 L288.8,365.3 L289.1,366.3 L289.3,366.3 L289.6,377.2 L289.8,377.2 L290.1,370.6 L290.3,370.6 L290.5,355.1 L290.8,355.1 L291.0,350.6 L291.3,350.6 L291.5,349.8 L291.8,349.8 L292.0,344.6 L292.3,344.6 L292.5,343.1 L292.8,343.1 L293.0,353.3 L293.3,353.3 L293.5,346.0 L293.8,346.0 L294.0,327.1 L294.3,327.1 L294.5,326.2 L294.8,326.2 L295.0,322.6 L295.3,322.6 L295.5,325.4 L295.8,325.4 L296.0,322.1 L296.3,322.1 L296.5,332.0 L296.8,332.0 L297.0,321.6 L297.3,321.6 L297.5,307.8 L297.8,307.8 L298.0,307.6 L298.3,307.6 L298.5,301.8 L298.8,301.8 L299.0,303.4 L299.3,303.4 L299.5,296.6 L299.8,296.6 L300.0,307.0 L300.3,307.0 L300.5,293.7 L300.8,293.7 L301.0,279.9 L301.3,279.9 L301.5,279.8 L301.8,279.8 L302.0,276.3 L302.3,276.3 L302.5,269.2 L302.7,269.2 L303.0,267.8 L303.2,267.8 L303.5,266.9 L303.7,266.9 L304.0,274.3 L304.2,274.3 L304.5,283.2 L304.7,283.2 L305.0,291.0 L305.2,291.0 L305.5,298.5 L305.7,298.5 L306.0,300.2 L306.2,300.2 L306.5,302.5 L306.7,302.5 L307.0,311.1 L307.2,311.1 L307.5,303.1 L307.7,303.1 L308.0,288.7 L308.2,288.7 L308.5,284.5 L308.7,284.5 L309.0,283.2 L309.2,283.2 L309.5,286.4 L309.7,286.4 L310.0,280.7 L310.2,280.7 L310.5,297.1 L310.7,297.1 L311.0,287.0 L311.2,287.0 L311.5,272.6 L311.7,272.6 L312.0,266.2 L312.2,266.2 L312.5,266.1 L312.7,266.1 L313.0,265.1 L313.2,265.1 L313.5,265.6 L313.7,265.6 L314.0,278.4 L314.2,278.4 L314.5,264.5 L314.7,264.5 L314.9,246.4 L315.2,246.4 L315.4,247.6 L315.7,247.6 L315.9,242.4 L316.2,242.4 L316.4,241.3 L316.7,241.3 L316.9,241.7 L317.2,241.7 L317.4,246.4 L317.7,246.4 L317.9,242.1 L318.2,242.1 L318.4,226.7 L318.7,226.7 L318.9,223.9 L319.2,223.9 L319.4,223.2 L319.7,223.2 L319.9,221.8 L320.2,221.8 L320.4,219.8 L320.7,219.8 L320.9,231.5 L321.2,231.5 L321.4,215.5 L321.7,215.5 L321.9,203.2 L322.2,203.2 L322.4,201.4 L322.7,201.4 L322.9,197.1 L323.2,197.1 L323.4,195.7 L323.7,195.7 L323.9,196.7 L324.2,196.7 L324.4,203.8 L324.7,203.8 L324.9,184.4 L325.2,184.4 L325.4,172.3 L325.7,172.3 L325.9,166.6 L326.2,166.6 L326.4,158.3 L326.7,158.3 L326.9,157.1 L327.2,157.1 L327.4,155.0 L327.6,155.0 L327.9,147.1 L328.1,147.1 L328.4,143.1 L328.6,143.1 L328.9,139.1 L329.1,139.1 L329.4,133.6 L329.6,133.6 L329.9,139.0 L330.1,139.0 L330.4,143.0 L330.6,143.0 L330.9,147.0 L331.1,147.0 L331.4,172.9 L331.6,172.9 L331.9,166.6 L332.1,166.6 L332.4,160.7 L332.6,160.7 L332.9,163.6 L333.1,163.6 L333.4,168.7 L333.6,168.7 L333.9,170.6 L334.1,170.6 L334.4,180.8 L334.6,180.8 L334.9,198.2 L335.1,198.2 L335.4,192.1 L335.6,192.1 L335.9,179.3 L336.1,179.3 L336.4,185.3 L336.6,185.3 L336.9,187.1 L337.1,187.1 L337.4,188.2 L337.6,188.2 L337.9,193.1 L338.1,193.1 L338.4,204.0 L338.6,204.0 L338.9,192.6 L339.1,192.6 L339.4,177.6 L339.6,177.6 L339.9,175.2 L340.1,175.2 L340.3,173.9 L340.6,173.9 L340.8,169.8 L341.1,169.8 L341.3,167.6 L341.6,167.6 L341.8,158.9 L342.1,158.9 L342.3,155.6 L342.6,155.6 L342.8,151.1 L343.1,151.1 L343.3,149.1 L343.6,149.1 L343.8,152.1 L344.1,152.1 L344.3,158.2 L344.6,158.2 L344.8,173.5 L345.1,173.5 L345.3,191.1 L345.6,191.1 L345.8,186.4 L346.1,186.4 L346.3,181.8 L346.6,181.8 L346.8,192.1 L347.1,192.1 L347.3,202.1 L347.6,202.1 L347.8,208.7 L348.1,208.7 L348.3,218.0 L348.6,218.0 L348.8,236.1 L349.1,236.1 L349.3,235.2 L349.6,235.2 L349.8,222.5 L350.1,222.5 L350.3,226.8 L350.6,226.8 L350.8,230.4 L351.1,230.4 L351.3,236.5 L351.6,236.5 L351.8,243.6 L352.1,243.6 L352.3,271.6 L352.5,271.6 L352.8,280.7 L353.0,280.7 L353.3,278.4 L353.5,278.4 L353.8,279.1 L354.0,279.1 L354.3,280.5 L354.5,280.5 L354.8,285.3 L355.0,285.3 L355.3,285.5 L355.5,285.5 L355.8,298.9 L356.0,298.9 L356.3,295.0 L356.5,295.0 L356.8,283.3 L357.0,283.3 L357.3,287.3 L357.5,287.3 L357.8,284.4 L358.0,284.4 L358.3,289.3 L358.5,289.3 L358.8,292.9 L359.0,292.9 L359.3,304.5 L359.5,304.5 L359.8,306.3 L360.0,306.3 L360.3,291.9 L360.5,291.9 L360.8,294.2 L361.0,294.2 L361.3,299.8 L361.5,299.8 L361.8,301.2 L362.0,301.2 L362.3,312.1 L362.5,312.1 L362.8,328.9 L363.0,328.9 L363.3,325.2 L363.5,325.2 L363.8,321.5 L364.0,321.5 L364.3,331.7 L364.5,331.7 L364.8,335.7 L365.0,335.7 L365.2,347.7 L365.5,347.7 L365.7,354.5 L366.0,354.5 L366.2,377.5 L366.5,377.5 L366.7,360.7 L367.0,360.7 L367.2,341.0 L367.5,341.0 L367.7,332.8 L368.0,332.8 L368.2,330.3 L368.5,330.3 L368.7,322.1 L369.0,322.1 L369.2,314.6 L369.5,314.6 L369.7,317.2 L370.0,317.2 L370.2,291.6 L370.5,291.6 L370.7,281.9 L371.0,281.9 L371.2,276.6 L371.5,276.6 L371.7,274.9 L372.0,274.9 L372.2,276.5 L372.5,276.5 L372.7,277.5 L373.0,277.5 L373.2,277.8 L373.5,277.8 L373.7,293.5 L374.0,293.5 L374.2,327.5 L374.5,327.5 L374.7,360.1 L375.0,360.1 L375.2,369.5 L375.5,369.5 L375.7,371.4 L376.0,371.4 L376.2,386.5 L376.5,386.5 L376.7,401.5 L377.0,401.5 L377.2,401.1 L377.4,401.1 L377.7,396.4 L377.9,396.4 L378.2,400.7 L378.4,400.7 L378.7,397.6 L378.9,397.6 L379.2,402.1 L379.4,402.1 L379.7,408.0 L379.9,408.0 L380.2,421.8 L380.4,421.8 L380.7,411.7 L380.9,411.7 L381.2,405.9 L381.4,405.9 L381.7,411.1 L381.9,411.1 L382.2,409.5 L382.4,409.5 L382.7,413.8 L382.9,413.8 L383.2,418.1 L383.4,418.1 L383.7,431.0 L383.9,431.0 L384.2,429.7 L384.4,429.7 L384.7,422.8 L384.9,422.8 L385.2,428.0 L385.4,428.0 L385.7,431.7 L385.9,431.7 L386.2,433.3 L386.4,433.3 L386.7,429.1 L386.9,429.1 L387.2,434.3 L387.4,434.3 L387.7,422.3 L387.9,422.3 L388.2,409.7 L388.4,409.7 L388.7,404.5 L388.9,404.5 L389.2,404.1 L389.4,404.1 L389.6,400.7 L389.9,400.7 L390.1,399.9 L390.4,399.9 L390.6,408.8 L390.9,408.8 L391.1,404.0 L391.4,404.0 L391.6,390.5 L391.9,390.5 L392.1,390.3 L392.4,390.3 L392.6,387.2 L392.9,387.2 L393.1,386.9 L393.4,386.9 L393.6,384.6 L393.9,384.6 L394.1,399.3 L394.4,399.3 L394.6,383.1 L394.9,383.1 L395.1,371.9 L395.4,371.9 L395.6,372.6 L395.9,372.6 L396.1,371.9 L396.4,371.9 L396.6,369.0 L396.9,369.0 L397.1,373.3 L397.4,373.3 L397.6,391.3 L397.9,391.3 L398.1,381.9 L398.4,381.9 L398.6,372.0 L398.9,372.0 L399.1,373.1 L399.4,373.1 L399.6,371.3 L399.9,371.3 L400.1,376.6 L400.4,376.6 L400.6,378.5 L400.9,378.5 L401.1,389.0 L401.4,389.0 L401.6,382.2 L401.9,382.2 L402.1,371.3 L402.3,371.3 L402.6,373.4 L402.8,373.4 L403.1,380.3 L403.3,380.3 L403.6,376.0 L403.8,376.0 L404.1,383.9 L404.3,383.9 L404.6,395.1 L404.8,395.1 L405.1,388.8 L405.3,388.8 L405.6,383.2 L405.8,383.2 L406.1,383.0 L406.3,383.0 L406.6,384.9 L406.8,384.9 L407.1,388.9 L407.3,388.9 L407.6,396.4 L407.8,396.4 L408.1,407.8 L408.3,407.8 L408.6,395.8 L408.8,395.8 L409.1,387.0 L409.3,387.0 L409.6,392.1 L409.8,392.1 L410.1,387.5 L410.3,387.5 L410.6,391.3 L410.8,391.3 L411.1,392.7 L411.3,392.7 L411.6,407.6 L411.8,407.6 L412.1,398.4 L412.3,398.4 L412.6,387.8 L412.8,387.8 L413.1,386.2 L413.3,386.2 L413.6,384.2 L413.8,384.2 L414.1,385.0 L414.3,385.0 L414.6,386.6 L414.8,386.6 L415.0,404.8 L415.3,404.8 L415.5,390.6 L415.8,390.6 L416.0,380.0 L416.3,380.0 L416.5,385.1 L416.8,385.1 L417.0,379.7 L417.3,379.7 L417.5,388.6 L417.8,388.6 L418.0,388.0 L418.3,388.0 L418.5,405.9 L418.8,405.9 L419.0,399.2 L419.3,399.2 L419.5,395.5 L419.8,395.5 L420.0,397.7 L420.3,397.7 L420.5,401.8 L420.8,401.8 L421.0,404.9 L421.3,404.9 L421.5,408.9 L421.8,408.9 L422.0,416.8 L422.3,416.8 L422.5,413.0 L422.8,413.0 L423.0,403.6 L423.3,403.6 L423.5,404.2 L423.8,404.2 L424.0,409.0 L424.3,409.0 L424.5,407.8 L424.8,407.8 L425.0,410.6 L425.3,410.6 L425.5,416.2 L425.8,416.2 L426.0,411.1 L426.3,411.1 L426.5,400.0 L426.8,400.0 L427.0,401.5 L427.2,401.5 L427.5,397.4 L427.7,397.4 L428.0,399.6 L428.2,399.6 L428.5,402.1 L428.7,402.1 L429.0,409.8 L429.2,409.8 L429.5,405.8 L429.7,405.8 L430.0,396.2 L430.2,396.2 L430.5,394.4 L430.7,394.4 L431.0,396.7 L431.2,396.7 L431.5,397.3 L431.7,397.3 L432.0,396.7 L432.2,396.7 L432.5,400.4 L432.7,400.4 L433.0,386.1 L433.2,386.1 L433.5,357.7 L433.7,357.7 L434.0,347.7 L434.2,347.7 L434.5,334.9 L434.7,334.9 L435.0,325.3 L435.2,325.3 L435.5,324.9 L435.7,324.9 L436.0,333.9 L436.2,333.9 L436.5,355.8 L436.7,355.8 L437.0,353.1 L437.2,353.1 L437.5,356.0 L437.7,356.0 L438.0,355.4 L438.2,355.4 L438.5,360.6 L438.7,360.6 L439.0,361.4 L439.2,361.4 L439.4,374.5 L439.7,374.5 L439.9,371.7 L440.2,371.7 L440.4,360.4 L440.7,360.4 L440.9,362.8 L441.2,362.8 L441.4,361.5 L441.7,361.5 L441.9,366.4 L442.2,366.4 L442.4,367.4 L442.7,367.4 L442.9,386.2 L443.2,386.2 L443.4,378.5 L443.7,378.5 L443.9,363.2 L444.2,363.2 L444.4,369.6 L444.7,369.6 L444.9,366.0 L445.2,366.0 L445.4,367.9 L445.7,367.9 L445.9,376.9 L446.2,376.9 L446.4,387.5 L446.7,387.5 L446.9,382.4 L447.2,382.4 L447.4,372.7 L447.7,372.7 L447.9,372.0 L448.2,372.0 L448.4,378.6 L448.7,378.6 L448.9,377.8 L449.2,377.8 L449.4,383.4 L449.7,383.4 L449.9,397.0 L450.2,397.0 L450.4,393.5 L450.7,393.5 L450.9,382.9 L451.2,382.9 L451.4,381.6 L451.7,381.6 L451.9,382.3 L452.1,382.3 L452.4,385.9 L452.6,385.9 L452.9,390.1 L453.1,390.1 L453.4,400.6 L453.6,400.6 L453.9,393.8 L454.1,393.8 L454.4,387.4 L454.6,387.4 L454.9,388.3 L455.1,388.3 L455.4,391.4 L455.6,391.4 L455.9,392.4 L456.1,392.4 L456.4,393.9 L456.6,393.9 L456.9,402.1 L457.1,402.1 L457.4,391.9 L457.6,391.9 L457.9,381.1 L458.1,381.1 L458.4,382.1 L458.6,382.1 L458.9,383.4 L459.1,383.4 L459.4,384.4 L459.6,384.4 L459.9,385.5 L460.1,385.5 L460.4,403.4 L460.6,403.4 L460.9,391.8 L461.1,391.8 L461.4,382.2 L461.6,382.2 L461.9,387.4 L462.1,387.4 L462.4,389.1 L462.6,389.1 L462.9,387.6 L463.1,387.6 L463.4,390.9 L463.6,390.9 L463.9,408.3 L464.1,408.3 L464.4,395.6 L464.6,395.6 L464.8,387.9 L465.1,387.9 L465.3,389.0 L465.6,389.0 L465.8,389.5 L466.1,389.5 L466.3,387.2 L466.6,387.2 L466.8,388.3 L467.1,388.3 L467.3,401.2 L467.6,401.2 L467.8,397.0 L468.1,397.0 L468.3,381.9 L468.6,381.9 L468.8,386.0 L469.1,386.0 L469.3,384.9 L469.6,384.9 L469.8,387.2 L470.1,387.2 L470.3,382.0 L470.6,382.0 L470.8,395.5 L471.1,395.5 L471.3,385.5 L471.6,385.5 L471.8,376.2 L472.1,376.2 L472.3,375.8 L472.6,375.8 L472.8,374.4 L473.1,374.4 L473.3,379.2 L473.6,379.2 L473.8,377.9 L474.1,377.9 L474.3,392.0 L474.6,392.0 L474.8,382.8 L475.1,382.8 L475.3,374.6 L475.6,374.6 L475.8,371.9 L476.1,371.9 L476.3,371.6 L476.6,371.6 L476.8,371.3 L477.0,371.3 L477.3,377.1 L477.5,377.1 L477.8,391.4 L478.0,391.4 L478.3,383.6 L478.5,383.6 L478.8,373.2 L479.0,373.2 L479.3,373.2 L479.5,373.2 L479.8,369.8 L480.0,369.8 L480.3,370.3 L480.5,370.3 L480.8,378.0 L481.0,378.0 L481.3,391.1 L481.5,391.1 L481.8,380.6 L482.0,380.6 L482.3,370.9 L482.5,370.9 L482.8,369.4 L483.0,369.4 L483.3,367.7 L483.5,367.7 L483.8,367.4 L484.0,367.4 L484.3,368.2 L484.5,368.2 L484.8,385.2 L485.0,385.2 L485.3,378.3 L485.5,378.3 L485.8,365.4 L486.0,365.4 L486.3,361.9 L486.5,361.9 L486.8,363.9 L487.0,363.9 L487.3,366.6 L487.5,366.6 L487.8,367.7 L488.0,367.7 L488.3,378.0 L488.5,378.0 L488.8,367.5 L489.0,367.5 L489.2,355.3 L489.5,355.3 L489.7,353.2 L490.0,353.2 L490.2,353.1 L490.5,353.1 L490.7,357.7 L491.0,357.7 L491.2,362.8 L491.5,362.8 L491.7,372.5 L492.0,372.5 L492.2,363.6 L492.5,363.6 L492.7,351.6 L493.0,351.6 L493.2,353.5 L493.5,353.5 L493.7,357.9 L494.0,357.9 L494.2,357.0 L494.5,357.0 L494.7,364.3 L495.0,364.3 L495.2,371.1 L495.5,371.1 L495.7,364.6 L496.0,364.6 L496.2,354.5 L496.5,354.5 L496.7,354.9 L497.0,354.9 L497.2,360.1 L497.5,360.1 L497.7,362.5 L498.0,362.5 L498.2,368.2 L498.5,368.2 L498.7,380.7 L499.0,380.7 L499.2,369.9 L499.5,369.9 L499.7,364.3 L500.0,364.3 L500.2,367.0 L500.5,367.0 L500.7,369.9 L501.0,369.9 L501.2,371.8 L501.5,371.8 L501.7,380.1 L501.9,380.1 L502.2,396.7 L502.4,396.7 L502.7,384.4 L502.9,384.4 L503.2,379.3 L503.4,379.3 L503.7,380.4 L503.9,380.4 L504.2,385.3 L504.4,385.3 L504.7,392.1 L504.9,392.1 L505.2,397.7 L505.4,397.7 L505.7,409.4 L505.9,409.4 L506.2,401.0 L506.4,401.0 L506.7,397.4 L506.9,397.4 L507.2,393.3 L507.4,393.3 L507.7,395.1 L507.9,395.1 L508.2,399.4 L508.4,399.4 L508.7,398.1 L508.9,398.1 L509.2,409.1 L509.4,409.1 L509.7,406.5 L509.9,406.5 L510.2,395.2 L510.4,395.2 L510.7,390.1 L510.9,390.1 L511.2,390.4 L511.4,390.4 L511.7,389.6 L511.9,389.6 L512.2,389.9 L512.4,389.9 L512.7,402.0 L512.9,402.0 L513.2,398.6 L513.4,398.6 L513.7,380.5 L513.9,380.5 L514.1,379.0 L514.4,379.0 L514.6,378.5 L514.9,378.5 L515.1,380.9 L515.4,380.9 L515.6,390.6 L515.9,390.6 L516.1,407.6 L516.4,407.6 L516.6,403.5 L516.9,403.5 L517.1,394.2 L517.4,394.2 L517.6,399.5 L517.9,399.5 L518.1,398.0 L518.4,398.0 L518.6,400.7 L518.9,400.7 L519.1,407.7 L519.4,407.7 L519.6,412.5 L519.9,412.5 L520.1,407.2 L520.4,407.2 L520.6,398.7 L520.9,398.7 L521.1,398.1 L521.4,398.1 L521.6,401.1 L521.9,401.1 L522.1,399.1 L522.4,399.1 L522.6,402.9 L522.9,402.9 L523.1,418.4 L523.4,418.4 L523.6,406.4 L523.9,406.4 L524.1,401.5 L524.4,401.5 L524.6,398.0 L524.9,398.0 L525.1,403.0 L525.4,403.0 L525.6,401.2 L525.9,401.2 L526.1,402.5 L526.4,402.5 L526.6,409.3 L526.8,409.3 L527.1,400.7 L527.3,400.7 L527.6,394.0 L527.8,394.0 L528.1,390.2 L528.3,390.2 L528.6,389.9 L528.8,389.9 L529.1,394.9 L529.3,394.9 L529.6,397.2 L529.8,397.2 L530.1,402.5 L530.3,402.5 L530.6,401.2 L530.8,401.2 L531.1,385.8 L531.3,385.8 L531.6,384.8 L531.8,384.8 L532.1,383.3 L532.3,383.3 L532.6,386.3 L532.8,386.3 L533.1,393.3 L533.3,393.3 L533.6,400.0 L533.8,400.0 L534.1,390.0 L534.3,390.0 L534.6,379.2 L534.8,379.2 L535.1,378.4 L535.3,378.4 L535.6,379.9 L535.8,379.9 L536.1,385.1 L536.3,385.1 L536.6,379.4 L536.8,379.4 L537.1,391.4 L537.3,391.4 L537.6,387.4 L537.8,387.4 L538.1,373.9 L538.3,373.9 L538.6,372.8 L538.8,372.8 L539.0,366.4 L539.3,366.4 L539.5,366.9 L539.8,366.9 L540.0,372.7 L540.3,372.7 L540.5,380.0 L540.8,380.0 L541.0,371.8 L541.3,371.8 L541.5,355.2 L541.8,355.2 L542.0,353.2 L542.3,353.2 L542.5,353.4 L542.8,353.4 L543.0,358.4 L543.3,358.4 L543.5,362.2 L543.8,362.2 L544.0,374.0 L544.3,374.0 L544.5,365.7 L544.8,365.7 L545.0,354.8 L545.3,354.8 L545.5,355.5 L545.8,355.5 L546.0,358.2 L546.3,358.2 L546.5,362.6 L546.8,362.6 L547.0,361.1 L547.3,361.1 L547.5,377.7 L547.8,377.7 L548.0,373.0 L548.3,373.0 L548.5,360.8 L548.8,360.8 L549.0,357.5 L549.3,357.5 L549.5,363.9 L549.8,363.9 L550.0,363.7 L550.3,363.7 L550.5,360.6 L550.8,360.6 L551.0,373.7 L551.3,373.7 L551.5,364.5 L551.7,364.5 L552.0,353.1 L552.2,353.1 L552.5,358.2 L552.7,358.2 L553.0,354.3 L553.2,354.3 L553.5,358.9 L553.7,358.9 L554.0,355.1 L554.2,355.1 L554.5,366.6 L554.7,366.6 L555.0,364.7 L555.2,364.7 L555.5,351.4 L555.7,351.4 L556.0,353.6 L556.2,353.6 L556.5,352.6 L556.7,352.6 L557.0,352.9 L557.2,352.9 L557.5,357.8 L557.7,357.8 L558.0,365.4 L558.2,365.4 L558.5,361.0 L558.7,361.0 L559.0,348.2 L559.2,348.2 L559.5,347.7 L559.7,347.7 L560.0,351.9 L560.2,351.9 L560.5,351.3 L560.7,351.3 L561.0,355.4 L561.2,355.4 L561.5,366.6 L561.7,366.6 L562.0,357.5 L562.2,357.5 L562.5,345.3 L562.7,345.3 L563.0,347.4 L563.2,347.4 L563.5,351.2 L563.7,351.2 L564.0,351.7 L564.2,351.7 L564.4,353.5 L564.7,353.5 L564.9,365.6 L565.2,365.6 L565.4,352.5 L565.7,352.5 L565.9,339.6 L566.2,339.6 L566.4,325.9 L566.7,325.9 L566.9,317.1 L567.2,317.1 L567.4,317.7 L567.7,317.7 L567.9,324.1 L568.2,324.1 L568.4,335.5 L568.7,335.5 L568.9,331.4 L569.2,331.4 L569.4,318.8 L569.7,318.8 L569.9,326.0 L570.2,326.0 L570.4,324.8 L570.7,324.8 L570.9,326.6 L571.2,326.6 L571.4,329.8 L571.7,329.8 L571.9,345.4 L572.2,345.4 L572.4,338.0 L572.7,338.0 L572.9,322.2 L573.2,322.2 L573.4,322.2 L573.7,322.2 L573.9,324.8 L574.2,324.8 L574.4,321.8 L574.7,321.8 L574.9,327.4 L575.2,327.4 L575.4,343.6 L575.7,343.6 L575.9,334.9 L576.2,334.9 L576.4,319.4 L576.6,319.4 L576.9,324.1 L577.1,324.1 L577.4,321.5 L577.6,321.5 L577.9,327.7 L578.1,327.7 L578.4,325.6 L578.6,325.6 L578.9,337.2 L579.1,337.2 L579.4,331.6 L579.6,331.6 L579.9,322.1 L580.1,322.1 L580.4,318.5 L580.6,318.5 L580.9,322.1 L581.1,322.1 L581.4,321.2 L581.6,321.2 L581.9,320.2 L582.1,320.2 L582.4,331.5 L582.6,331.5 L582.9,323.9 L583.1,323.9 L583.4,309.8 L583.6,309.8 L583.9,309.3 L584.1,309.3 L584.4,308.4 L584.6,308.4 L584.9,306.0 L585.1,306.0 L585.4,300.9 L585.6,300.9 L585.9,304.7 L586.1,304.7 L586.4,291.5 L586.6,291.5 L586.9,275.0 L587.1,275.0 L587.4,278.2 L587.6,278.2 L587.9,276.7 L588.1,276.7 L588.4,278.7 L588.6,278.7 L588.9,284.5 L589.1,284.5 L589.3,298.1 L589.6,298.1 L589.8,289.0 L590.1,289.0 L590.3,281.7 L590.6,281.7 L590.8,286.2 L591.1,286.2 L591.3,285.0 L591.6,285.0 L591.8,288.7 L592.1,288.7 L592.3,293.0 L592.6,293.0 L592.8,306.5 L593.1,306.5 L593.3,299.6 L593.6,299.6 L593.8,284.4 L594.1,284.4 L594.3,287.8 L594.6,287.8 L594.8,285.2 L595.1,285.2 L595.3,293.8 L595.6,293.8 L595.8,294.0 L596.1,294.0 L596.3,308.9 L596.6,308.9 L596.8,305.4 L597.1,305.4 L597.3,290.4 L597.6,290.4 L597.8,291.6 L598.1,291.6 L598.3,298.8 L598.6,298.8 L598.8,296.8 L599.1,296.8 L599.3,293.2 L599.6,293.2 L599.8,303.2 L600.1,303.2 L600.3,295.3 L600.6,295.3 L600.8,281.1 L601.1,281.1 L601.3,283.2 L601.5,283.2 L601.8,277.8 L602.0,277.8 L602.3,281.9 L602.5,281.9 L602.8,287.5 L603.0,287.5 L603.3,303.2 L603.5,303.2 L603.8,296.3 L604.0,296.3 L604.3,287.6 L604.5,287.6 L604.8,290.5 L605.0,290.5 L605.3,286.6 L605.5,286.6 L605.8,277.9 L606.0,277.9 L606.3,280.4 L606.5,280.4 L606.8,283.5 L607.0,283.5 L607.3,263.1 L607.5,263.1 L607.8,249.3 L608.0,249.3 L608.3,248.4 L608.5,248.4 L608.8,246.1 L609.0,246.1 L609.3,245.9 L609.5,245.9 L609.8,249.0 L610.0,249.0 L610.3,270.4 L610.5,270.4 L610.8,264.5 L611.0,264.5 L611.3,258.9 L611.5,258.9 L611.8,264.6 L612.0,264.6 L612.3,269.9 L612.5,269.9 L612.8,279.9 L613.0,279.9 L613.3,292.0 L613.5,292.0 L613.8,315.2 L614.0,315.2 L614.2,309.5 L614.5,309.5 L614.7,303.4 L615.0,303.4 L615.2,307.3 L615.5,307.3 L615.7,315.9 L616.0,315.9 L616.2,316.6 L616.5,316.6 L616.7,330.9 L617.0,330.9 L617.2,344.7 L617.5,344.7 L617.7,339.1 L618.0,339.1 L618.2,326.5 L618.5,326.5 L618.7,327.6 L619.0,327.6 L619.2,331.8 L619.5,331.8 L619.7,337.5 L620.0,337.5 L620.2,339.1 L620.5,339.1 L620.7,351.1 L621.0,351.1 L621.2,349.7 L621.5,349.7 L621.7,335.9 L622.0,335.9 L622.2,336.6 L622.5,336.6 L622.7,336.2 L623.0,336.2 L623.2,339.3 L623.5,339.3 L623.7,347.9 L624.0,347.9 L624.2,355.5 L624.5,355.5 L624.7,350.7 L625.0,350.7 L625.2,337.0 L625.5,337.0 L625.7,333.5 L626.0,333.5 L626.2,335.8 L626.4,335.8 L626.7,336.1 L626.9,336.1 L627.2,336.3 L627.4,336.3 L627.7,345.9 L627.9,345.9 L628.2,331.8 L628.4,331.8 L628.7,319.7 L628.9,319.7 L629.2,319.8 L629.4,319.8 L629.7,318.8 L629.9,318.8 L630.2,321.1 L630.4,321.1 L630.7,336.5 L630.9,336.5 L631.2,349.8 L631.4,349.8 L631.7,349.8 L631.9,349.8 L632.2,341.8 L632.4,341.8 L632.7,340.3 L632.9,340.3 L633.2,350.1 L633.4,350.1 L633.7,350.7 L633.9,350.7 L634.2,355.3 L634.4,355.3 L634.7,368.2 L634.9,368.2 L635.2,356.5 L635.4,356.5 L635.7,345.7 L635.9,345.7 L636.2,343.3 L636.4,343.3 L636.7,346.0 L636.9,346.0 L637.2,345.0 L637.4,345.0 L637.7,339.3 L637.9,339.3 L638.2,354.4 L638.4,354.4 L638.6,345.8 L638.9,345.8 L639.1,333.2 L639.4,333.2 L639.6,332.7 L639.9,332.7 L640.1,333.7 L640.4,333.7 L640.6,338.2 L640.9,338.2 L641.1,337.9 L641.4,337.9 L641.6,348.6 L641.9,348.6 L642.1,340.9 L642.4,340.9 L642.6,330.2 L642.9,330.2 L643.1,331.7 L643.4,331.7 L643.6,330.0 L643.9,330.0 L644.1,334.8 L644.4,334.8 L644.6,333.5 L644.9,333.5 L645.1,349.8 L645.4,349.8 L645.6,341.0 L645.9,341.0 L646.1,326.8 L646.4,326.8 L646.6,330.4 L646.9,330.4 L647.1,328.6 L647.4,328.6 L647.6,331.1 L647.9,331.1 L648.1,334.2 L648.4,334.2 L648.6,347.1 L648.9,347.1 L649.1,337.4 L649.4,337.4 L649.6,325.1 L649.9,325.1 L650.1,329.7 L650.4,329.7 L650.6,331.9 L650.9,331.9 L651.1,330.8 L651.3,330.8 L651.6,334.8 L651.8,334.8 L652.1,345.6 L652.3,345.6 L652.6,342.9 L652.8,342.9 L653.1,329.5 L653.3,329.5 L653.6,327.2 L653.8,327.2 L654.1,333.5 L654.3,333.5 L654.6,336.7 L654.8,336.7 L655.1,335.2 L655.3,335.2 L655.6,356.0 L655.8,356.0 L656.1,346.5 L656.3,346.5 L656.6,336.2 L656.8,336.2 L657.1,342.5 L657.3,342.5 L657.6,343.5 L657.8,343.5 L658.1,350.8 L658.3,350.8 L658.6,354.0 L658.8,354.0 L659.1,364.1 L659.3,364.1 L659.6,360.5 L659.8,360.5 L660.1,352.0 L660.3,352.0 L660.6,351.0 L660.8,351.0 L661.1,353.9 L661.3,353.9 L661.6,359.0 L661.8,359.0 L662.1,359.1 L662.3,359.1 L662.6,373.0 L662.8,373.0 L663.1,366.3 L663.3,366.3 L663.5,356.7 L663.8,356.7 L664.0,353.6 L664.3,353.6 L664.5,354.3 L664.8,354.3 L665.0,359.7 L665.3,359.7 L665.5,357.5 L665.8,357.5 L666.0,364.9 L666.3,364.9 L666.5,358.1 L666.8,358.1 L667.0,342.5 L667.3,342.5 L667.5,337.2 L667.8,337.2 L668.0,338.8 L668.3,338.8 L668.5,338.4 L668.8,338.4 L669.0,339.9 L669.3,339.9 L669.5,348.5 L669.8,348.5 L670.0,337.6 L670.3,337.6 L670.5,330.1 L670.8,330.1 L671.0,330.9 L671.3,330.9 L671.5,328.4 L671.8,328.4 L672.0,330.3 L672.3,330.3 L672.5,333.3 L672.8,333.3 L673.0,343.0 L673.3,343.0 L673.5,337.8 L673.8,337.8 L674.0,324.0 L674.3,324.0 L674.5,322.8 L674.8,322.8 L675.0,322.7 L675.3,322.7 L675.5,328.9 L675.8,328.9 L676.0,331.0 L676.2,331.0 L676.5,348.2 L676.7,348.2 L677.0,336.8 L677.2,336.8 L677.5,327.6 L677.7,327.6 L678.0,328.5 L678.2,328.5 L678.5,332.1 L678.7,332.1 L679.0,336.1 L679.2,336.1 L679.5,336.3 L679.7,336.3 L680.0,348.3 L680.2,348.3 L680.5,343.1 L680.7,343.1 L681.0,329.5 L681.2,329.5 L681.5,330.9 L681.7,330.9 L682.0,329.0 L682.2,329.0 L682.5,329.4 L682.7,329.4 L683.0,335.2 L683.2,335.2 L683.5,350.6 L683.7,350.6 L684.0,341.5 L684.2,341.5 L684.5,326.2 L684.7,326.2 L685.0,326.9 L685.2,326.9 L685.5,326.4 L685.7,326.4 L686.0,330.3 L686.2,330.3 L686.5,334.2 L686.7,334.2 L687.0,352.9 L687.2,352.9 L687.5,339.0 L687.7,339.0 L688.0,334.3 L688.2,334.3 L688.5,332.2 L688.7,332.2 L688.9,333.9 L689.2,333.9 L689.4,334.4 L689.7,334.4 L689.9,342.2 L690.2,342.2 L690.4,348.3 L690.7,348.3 L690.9,342.6 L691.2,342.6 L691.4,329.4 L691.7,329.4 L691.9,327.5 L692.2,327.5 L692.4,328.0 L692.7,328.0 L692.9,334.9 L693.2,334.9 L693.4,335.6 L693.7,335.6 L693.9,347.4 L694.2,347.4 L694.4,340.0 L694.7,340.0 L694.9,323.1 L695.2,323.1 L695.4,325.9 L695.7,325.9 L695.9,327.2 L696.2,327.2 L696.4,328.8 L696.7,328.8 L696.9,337.9 L697.2,337.9 L697.4,359.2 L697.7,359.2 L697.9,350.3 L698.2,350.3 L698.4,346.0 L698.7,346.0 L698.9,347.1 L699.2,347.1 L699.4,355.3 L699.7,355.3 L699.9,357.0 L700.2,357.0 L700.4,365.1 L700.7,365.1 L700.9,380.3 L701.1,380.3 L701.4,379.6 L701.6,379.6 L701.9,369.8 L702.1,369.8 L702.4,372.1 L702.6,372.1 L702.9,372.6 L703.1,372.6 L703.4,368.1 L703.6,368.1 L703.9,370.1 L704.1,370.1 L704.4,374.7 L704.6,374.7 L704.9,365.0 L705.1,365.0 L705.4,349.4 L705.6,349.4 L705.9,344.8 L706.1,344.8 L706.4,339.7 L706.6,339.7 L706.9,338.1 L707.1,338.1 L707.4,340.8 L707.6,340.8 L707.9,349.9 L708.1,349.9 L708.4,345.9 L708.6,345.9 L708.9,331.5 L709.1,331.5 L709.4,335.7 L709.6,335.7 L709.9,335.9 L710.1,335.9 L710.4,336.2 L710.6,336.2 L710.9,336.0 L711.1,336.0 L711.4,346.0 L711.6,346.0 L711.9,341.8 L712.1,341.8 L712.4,330.9 L712.6,330.9 L712.9,332.6 L713.1,332.6 L713.4,327.6 L713.6,327.6 L713.8,328.2 L714.1,328.2 L714.3,337.2 L714.6,337.2 L714.8,347.6 L715.1,347.6 L715.3,336.9 L715.6,336.9 L715.8,326.3 L716.1,326.3 L716.3,322.7 L716.6,322.7 L716.8,325.8 L717.1,325.8 L717.3,327.5 L717.6,327.5 L717.8,328.2 L718.1,328.2 L718.3,336.0 L718.6,336.0 L718.8,326.1 L719.1,326.1 L719.3,316.2 L719.6,316.2 L719.8,317.6 L720.1,317.6 L720.3,311.3 L720.6,311.3 L720.8,310.1 L721.1,310.1 L721.3,312.0 L721.6,312.0 L721.8,328.9 L722.1,328.9 L722.3,317.3 L722.6,317.3 L722.8,306.2 L723.1,306.2 L723.3,311.9 L723.6,311.9 L723.8,310.6 L724.1,310.6 L724.3,309.7 L724.6,309.7 L724.8,316.6 L725.1,316.6 L725.3,324.3 L725.6,324.3 L725.8,318.9 L726.0,318.9 L726.3,310.6 L726.5,310.6 L726.8,308.4 L727.0,308.4 L727.3,309.3 L727.5,309.3 L727.8,315.7 L728.0,315.7 L728.3,318.5 L728.5,318.5 L728.8,338.0 L729.0,338.0 L729.3,324.3 L729.5,324.3 L729.8,319.2 L730.0,319.2 L730.3,318.2 L730.5,318.2 L730.8,324.2 L731.0,324.2 L731.3,324.3 L731.5,324.3 L731.8,330.4 L732.0,330.4 L732.3,340.5 L732.5,340.5 L732.8,330.3 L733.0,330.3 L733.3,318.8 L733.5,318.8 L733.8,321.3 L734.0,321.3 L734.3,317.7 L734.5,317.7 L734.8,317.0 L735.0,317.0 L735.3,320.2 L735.5,320.2 L735.8,329.3 L736.0,329.3 L736.3,321.7 L736.5,321.7 L736.8,310.5 L737.0,310.5 L737.3,312.0 L737.5,312.0 L737.8,315.4 L738.0,315.4 L738.2,316.1 L738.5,316.1 L738.7,318.6 L739.0,318.6 L739.2,333.2 L739.5,333.2 L739.7,329.3 L740.0,329.3 L740.2,321.2 L740.5,321.2 L740.7,329.5 L741.0,329.5 L741.2,334.2 L741.5,334.2 L741.7,345.6 L742.0,345.6 L742.2,353.0 L742.5,353.0 L742.7,372.3 L743.0,372.3 L743.2,370.6 L743.5,370.6 L743.7,356.3 L744.0,356.3 L744.2,352.6 L744.5,352.6 L744.7,349.2 L745.0,349.2 L745.2,344.9 L745.5,344.9 L745.7,349.8 L746.0,349.8 L746.2,356.6 L746.5,356.6 L746.7,341.4 L747.0,341.4 L747.2,332.1 L747.5,332.1 L747.7,326.5 L748.0,326.5 L748.2,324.3 L748.5,324.3 L748.7,322.5 L749.0,322.5 L749.2,322.3 L749.5,322.3 L749.7,341.6 L750.0,341.6 L750.2,326.3 L750.5,326.3 L750.7,315.3 L750.9,315.3 L751.2,320.6 L751.4,320.6 L751.7,314.3 L751.9,314.3 L752.2,318.3 L752.4,318.3 L752.7,320.5 L752.9,320.5 L753.2,330.9 L753.4,330.9 L753.7,325.5 L753.9,325.5 L754.2,306.0 L754.4,306.0 L754.7,302.2 L754.9,302.2 L755.2,301.9 L755.4,301.9 L755.7,296.3 L755.9,296.3 L756.2,301.5 L756.4,301.5 L756.7,312.1 L756.9,312.1 L757.2,299.8 L757.4,299.8 L757.7,279.0 L757.9,279.0 L758.2,277.8 L758.4,277.8 L758.7,271.6 L758.9,271.6 L759.2,269.9 L759.4,269.9 L759.7,267.0 L759.9,267.0 L760.2,277.3 L760.4,277.3 L760.7,265.9 L760.9,265.9 L761.2,255.8 L761.4,255.8 L761.7,251.7 L761.9,251.7 L762.2,256.8 L762.4,256.8 L762.7,249.0 L762.9,249.0 L763.1,257.3 L763.4,257.3 L763.6,262.1 L763.9,262.1 L764.1,251.2 L764.4,251.2 L764.6,242.5 L764.9,242.5 L765.1,239.5 L765.4,239.5 L765.6,237.5 L765.9,237.5 L766.1,236.8 L766.4,236.8 L766.6,239.8 L766.9,239.8 L767.1,242.8 L767.4,242.8 L767.6,258.2 L767.9,258.2 L768.1,247.6 L768.4,247.6 L768.6,254.2 L768.9,254.2 L769.1,250.5 L769.4,250.5 L769.6,254.1 L769.9,254.1 L770.1,264.0 L770.4,264.0 L770.6,281.0 L770.9,281.0 L771.1,270.9 L771.4,270.9 L771.6,263.0 L771.9,263.0 L772.1,264.5 L772.4,264.5 L772.6,266.2 L772.9,266.2 L773.1,270.1 L773.4,270.1 L773.6,275.8 L773.9,275.8 L774.1,285.9 L774.4,285.9 L774.6,281.8 L774.9,281.8 L775.1,274.9 L775.4,274.9 L775.6,273.8 L775.8,273.8 L776.1,278.5 L776.3,278.5 L776.6,276.9 L776.8,276.9 L777.1,278.3 L777.3,278.3 L777.6,291.3 L777.8,291.3 L778.1,281.6 L778.3,281.6 L778.6,269.0 L778.8,269.0 L779.1,263.7 L779.3,263.7 L779.6,260.6 L779.8,260.6 L780.1,260.9 L780.3,260.9 L780.6,259.3 L780.8,259.3 L781.1,272.0 L781.3,272.0 L781.6,268.3 L781.8,268.3 L782.1,258.2 L782.3,258.2 L782.6,257.9 L782.8,257.9 L783.1,260.4 L783.3,260.4 L783.6,262.9 L783.8,262.9 L784.1,268.2 L784.3,268.2 L784.6,285.4 L784.8,285.4 L785.1,277.0 L785.3,277.0 L785.6,271.6 L785.8,271.6 L786.1,271.3 L786.3,271.3 L786.6,269.3 L786.8,269.3 L787.1,270.0 L787.3,270.0 L787.6,268.3 L787.8,268.3 L788.0,285.2 L788.3,285.2 L788.5,275.8 L788.8,275.8 L789.0,259.1 L789.3,259.1 L789.5,261.3 L789.8,261.3 L790.0,257.5 L790.3,257.5 L790.5,257.0 L790.8,257.0 L791.0,258.6 L791.3,258.6 L791.5,271.0 L791.8,271.0 L792.0,265.9 L792.3,265.9 L792.5,253.9 L792.8,253.9 L793.0,255.2 L793.3,255.2 L793.5,251.3 L793.8,251.3 L794.0,257.8 L794.3,257.8 L794.5,258.2 L794.8,258.2 L795.0,269.8 L795.3,269.8 L795.5,258.7 L795.8,258.7 L796.0,241.9 L796.3,241.9 L796.5,237.3 L796.8,237.3 L797.0,235.6 L797.3,235.6 L797.5,235.3 L797.8,235.3 L798.0,245.9 L798.3,245.9 L798.5,267.4 L798.8,267.4 L799.0,260.6 L799.3,260.6 L799.5,254.5 L799.8,254.5 L800.0,255.1 L800.3,255.1 L800.5,256.1 L800.7,256.1 L801.0,260.2 L801.2,260.2 L801.5,256.8 L801.7,256.8 L802.0,275.2 L802.2,275.2 L802.5,262.8 L802.7,262.8 L803.0,241.1 L803.2,241.1 L803.5,238.4 L803.7,238.4 L804.0,237.1 L804.2,237.1 L804.5,222.0 L804.7,222.0 L805.0,217.8 L805.2,217.8 L805.5,230.3 L805.7,230.3 L806.0,218.0 L806.2,218.0 L806.5,205.0 L806.7,205.0 L807.0,204.6 L807.2,204.6 L807.5,210.1 L807.7,210.1 L808.0,208.0 L808.2,208.0 L808.5,209.6 L808.7,209.6 L809.0,223.1 L809.2,223.1 L809.5,218.5 L809.7,218.5 L810.0,201.6 L810.2,201.6 L810.5,201.1 L810.7,201.1 L811.0,207.6 L811.2,207.6 L811.5,203.7 L811.7,203.7 L812.0,207.6 L812.2,207.6 L812.5,225.9 L812.7,225.9 L813.0,213.0 L813.2,213.0 L813.4,202.5 L813.7,202.5 L813.9,208.2 L814.2,208.2 L814.4,205.1 L814.7,205.1 L814.9,207.2 L815.2,207.2 L815.4,216.6 L815.7,216.6 L815.9,224.6 L816.2,224.6 L816.4,222.6 L816.7,222.6 L816.9,207.7 L817.2,207.7 L817.4,209.4 L817.7,209.4 L817.9,211.4 L818.2,211.4 L818.4,217.0 L818.7,217.0 L818.9,221.5 L819.2,221.5 L819.4,234.5 L819.7,234.5 L819.9,228.7 L820.2,228.7 L820.4,217.0 L820.7,217.0 L820.9,223.0 L821.2,223.0 L821.4,226.4 L821.7,226.4 L821.9,225.6 L822.2,225.6 L822.4,228.1 L822.7,228.1 L822.9,234.2 L823.2,234.2 L823.4,226.6 L823.7,226.6 L823.9,214.6 L824.2,214.6 L824.4,213.6 L824.7,213.6 L824.9,219.8 L825.2,219.8 L825.4,219.9 L825.6,219.9 L825.9,222.0 L826.1,222.0 L826.4,231.1 L826.6,231.1 L826.9,218.6 L827.1,218.6 L827.4,208.1 L827.6,208.1 L827.9,206.7 L828.1,206.7 L828.4,213.7 L828.6,213.7 L828.9,210.8 L829.1,210.8 L829.4,214.6 L829.6,214.6 L829.9,233.6 L830.1,233.6 L830.4,220.3 L830.6,220.3 L830.9,214.7 L831.1,214.7 L831.4,211.5 L831.6,211.5 L831.9,216.4 L832.1,216.4 L832.4,214.2 L832.6,214.2 L832.9,224.1 L833.1,224.1 L833.4,232.9 L833.6,232.9 L833.9,224.1 L834.1,224.1 L834.4,214.3 L834.6,214.3 L834.9,214.5 L835.1,214.5 L835.4,212.8 L835.6,212.8 L835.9,213.1 L836.1,213.1 L836.4,219.3 L836.6,219.3 L836.9,227.6 L837.1,227.6 L837.4,226.1 L837.6,226.1 L837.9,209.9 L838.1,209.9 L838.3,210.5 L838.6,210.5 L838.8,213.2 L839.1,213.2 L839.3,213.8 L839.6,213.8 L839.8,219.0 L840.1,219.0 L840.3,234.5 L840.6,234.5 L840.8,226.1 L841.1,226.1 L841.3,214.5 L841.6,214.5 L841.8,215.5 L842.1,215.5 L842.3,219.1 L842.6,219.1 L842.8,223.5 L843.1,223.5 L843.3,223.5 L843.6,223.5 L843.8,239.0 L844.1,239.0 L844.3,228.5 L844.6,228.5 L844.8,215.4 L845.1,215.4 L845.3,215.2 L845.6,215.2 L845.8,221.2 L846.1,221.2 L846.3,219.7 L846.6,219.7 L846.8,221.7 L847.1,221.7 L847.3,235.6 L847.6,235.6 L847.8,230.0 L848.1,230.0 L848.3,214.0 L848.6,214.0 L848.8,214.7 L849.1,214.7 L849.3,216.0 L849.6,216.0 L849.8,214.5 L850.1,214.5 L850.3,221.6 L850.5,221.6 L850.8,233.9 L851.0,233.9 L851.3,232.1 L851.5,232.1 L851.8,227.5 L852.0,227.5 L852.3,236.4 L852.5,236.4 L852.8,247.5 L853.0,247.5 L853.3,252.5 L853.5,252.5 L853.8,269.6 L854.0,269.6 L854.3,268.0 L854.5,268.0 L854.8,257.8 L855.0,257.8 L855.3,233.7 L855.5,233.7 L855.8,229.9 L856.0,229.9 L856.3,218.9 L856.5,218.9 L856.8,210.8 L857.0,210.8 L857.3,209.3 L857.5,209.3 L857.8,217.6 L858.0,217.6 L858.3,209.2 L858.5,209.2 L858.8,196.9 L859.0,196.9 L859.3,198.2 L859.5,198.2 L859.8,192.5 L860.0,192.5 L860.3,198.2 L860.5,198.2 L860.8,200.7 L861.0,200.7 L861.3,220.6 L861.5,220.6 L861.8,211.8 L862.0,211.8 L862.3,200.3 L862.5,200.3 L862.8,196.6 L863.0,196.6 L863.2,194.4 L863.5,194.4 L863.7,188.2 L864.0,188.2 L864.2,187.6 L864.5,187.6 L864.7,197.3 L865.0,197.3 L865.2,186.8 L865.5,186.8 L865.7,182.6 L866.0,182.6 L866.2,179.8 L866.5,179.8 L866.7,181.2 L867.0,181.2 L867.2,190.1 L867.5,190.1 L867.7,189.1 L868.0,189.1 L868.2,205.4 L868.5,205.4 L868.7,192.6 L869.0,192.6 L869.2,183.6 L869.5,183.6 L869.7,187.6 L870.0,187.6 L870.2,184.1 L870.5,184.1 L870.7,189.4 L871.0,189.4 L871.2,197.0 L871.5,197.0 L871.7,206.4 L872.0,206.4 L872.2,204.6 L872.5,204.6 L872.7,195.1 L873.0,195.1 L873.2,197.4 L873.5,197.4 L873.7,202.2 L874.0,202.2 L874.2,203.4 L874.5,203.4 L874.7,197.9 L875.0,197.9 L875.2,209.4 L875.4,209.4 L875.7,201.2 L875.9,201.2 L876.2,189.7 L876.4,189.7 L876.7,181.9 L876.9,181.9 L877.2,183.6 L877.4,183.6 L877.7,179.6 L877.9,179.6 L878.2,186.4 L878.4,186.4 L878.7,194.2 L878.9,194.2 L879.2,184.8 L879.4,184.8 L879.7,172.0 L879.9,172.0 L880.2,168.2 L880.4,168.2 L880.7,172.0 L880.9,172.0 L881.2,172.8 L881.4,172.8 L881.7,174.9 L881.9,174.9 L882.2,181.9 L882.4,181.9 L882.7,172.2 L882.9,172.2 L883.2,160.4 L883.4,160.4 L883.7,164.6 L883.9,164.6 L884.2,161.3 L884.4,161.3 L884.7,161.6 L884.9,161.6 L885.2,164.6 L885.4,164.6 L885.7,178.1 L885.9,178.1 L886.2,160.0 L886.4,160.0 L886.7,135.8 L886.9,135.8 L887.2,125.7 L887.4,125.7 L887.6,118.6 L887.9,118.6 L888.1,111.5 L888.4,111.5 L888.6,114.2 L888.9,114.2 L889.1,121.3 L889.4,121.3 L889.6,139.5 L889.9,139.5 L890.1,127.4 L890.4,127.4 L890.6,127.8 L890.9,127.8 L891.1,134.6 L891.4,134.6 L891.6,133.4 L891.9,133.4 L892.1,136.8 L892.4,136.8 L892.6,151.3 L892.9,151.3 L893.1,153.4 L893.4,153.4 L893.6,151.5 L893.9,151.5 L894.1,154.8 L894.4,154.8 L894.6,163.0 L894.9,163.0 L895.1,164.4 L895.4,164.4 L895.6,168.0 L895.9,168.0 L896.1,183.9 L896.4,183.9 L896.6,173.8 L896.9,173.8 L897.1,160.2 L897.4,160.2 L897.6,158.6 L897.9,158.6 L898.1,158.6 L898.4,158.6 L898.6,158.2 L898.9,158.2 L899.1,162.4 L899.4,162.4 L899.6,169.3 L899.9,169.3 L900.1,165.0 L900.3,165.0 L900.6,148.7 L900.8,148.7 L901.1,152.4 L901.3,152.4 L901.6,146.6 L901.8,146.6 L902.1,149.0 L902.3,149.0 L902.6,148.7 L902.8,148.7 L903.1,160.9 L903.3,160.9 L903.6,145.9 L903.8,145.9 L904.1,132.4 L904.3,132.4 L904.6,133.1 L904.8,133.1 L905.1,138.7 L905.3,138.7 L905.6,142.3 L905.8,142.3 L906.1,142.4 L906.3,142.4 L906.6,158.6 L906.8,158.6 L907.1,151.8 L907.3,151.8 L907.6,146.9 L907.8,146.9 L908.1,144.8 L908.3,144.8 L908.6,148.1 L908.8,148.1 L909.1,148.7 L909.3,148.7 L909.6,157.2 L909.8,157.2 L910.1,174.1 L910.3,174.1 L910.6,167.6 L910.8,167.6 L911.1,154.3 L911.3,154.3 L911.6,153.4 L911.8,153.4 L912.1,152.8 L912.3,152.8 L912.5,148.5 L912.8,148.5 L913.0,158.5 L913.3,158.5 L913.5,170.2 L913.8,170.2 L914.0,164.5 L914.3,164.5 L914.5,157.7 L914.8,157.7 L915.0,160.7 L915.3,160.7 L915.5,161.4 L915.8,161.4 L916.0,165.9 L916.3,165.9 L916.5,166.2 L916.8,166.2 L917.0,177.7 L917.3,177.7 L917.5,167.5 L917.8,167.5 L918.0,159.4 L918.3,159.4 L918.5,158.9 L918.8,158.9 L919.0,160.7 L919.3,160.7 L919.5,158.4 L919.8,158.4 L920.0,156.4 L920.3,156.4 L920.5,167.3 L920.8,167.3 L921.0,158.0 L921.3,158.0 L921.5,146.0 L921.8,146.0 L922.0,150.0 L922.3,150.0 L922.5,148.5 L922.8,148.5 L923.0,146.5 L923.3,146.5 L923.5,152.4 L923.8,152.4 L924.0,164.0 L924.3,164.0 L924.5,150.6 L924.8,150.6 L925.0,143.3 L925.2,143.3 L925.5,139.3 L925.7,139.3 L926.0,145.6 L926.2,145.6 L926.5,139.4 L926.7,139.4 L927.0,143.4 L927.2,143.4 L927.5,157.3 L927.7,157.3 L928.0,155.4 L928.2,155.4 L928.5,144.3 L928.7,144.3 L929.0,144.6 L929.2,144.6 L929.5,144.2 L929.7,144.2 L930.0,149.8 L930.2,149.8 L930.5,156.6 L930.7,156.6 L931.0,166.2 L931.2,166.2 L931.5,163.6 L931.7,163.6 L932.0,149.2 L932.2,149.2 L932.5,149.3 L932.7,149.3 L933.0,147.1 L933.2,147.1 L933.5,146.4 L933.7,146.4 L934.0,149.8 L934.2,149.8 L934.5,154.7 L934.7,154.7 L935.0,144.6 L935.2,144.6 L935.5,130.7 L935.7,130.7 L936.0,128.3 L936.2,128.3 L936.5,131.6 L936.7,131.6 L937.0,136.7 L937.2,136.7 L937.5,155.3 L937.7,155.3 L937.9,175.8 L938.2,175.8 L938.4,181.3 L938.7,181.3 L938.9,171.2 L939.2,171.2 L939.4,174.5 L939.7,174.5 L939.9,180.0 L940.2,180.0 L940.4,178.1 L940.7,178.1 L940.9,185.8 L941.2,185.8 L941.4,197.8 L941.7,197.8 L941.9,187.8 L942.2,187.8 L942.4,175.2 L942.7,175.2 L942.9,175.4 L943.2,175.4 L943.4,170.1 L943.7,170.1 L943.9,167.0 L944.2,167.0 L944.4,162.0 L944.7,162.0 L944.9,166.1 L945.2,166.1 L945.4,153.2 L945.7,153.2 L945.9,137.9 L946.2,137.9 L946.4,135.7 L946.7,135.7 L946.9,129.7 L947.2,129.7 L947.4,127.4 L947.7,127.4 L947.9,128.7 L948.2,128.7 L948.4,135.8 L948.7,135.8 L948.9,116.8 L949.2,116.8 L949.4,112.6 L949.7,112.6 L949.9,112.4 L950.1,112.4 L950.4,110.2 L950.6,110.2 L950.9,115.0 L951.1,115.0 L951.4,124.7 L951.6,124.7 L951.9,154.3 L952.1,154.3 L952.4,166.6 L952.6,166.6 L952.9,170.4 L953.1,170.4 L953.4,183.1 L953.6,183.1 L953.9,200.1 L954.1,200.1 L954.4,215.2 L954.6,215.2 L954.9,219.7 L955.1,219.7 L955.4,240.3 L955.6,240.3 L955.9,234.7 L956.1,234.7 L956.4,226.4 L956.6,226.4 L956.9,227.9 L957.1,227.9 L957.4,228.7 L957.6,228.7 L957.9,232.0 L958.1,232.0 L958.4,242.0 L958.6,242.0 L958.9,255.0 L959.1,255.0 L959.4,254.8 L959.6,254.8 L959.9,243.5 L960.1,243.5 L960.4,248.6 L960.6,248.6 L960.9,248.3 L961.1,248.3 L961.4,251.5 L961.6,251.5 L961.9,261.4 L962.1,261.4 L962.4,274.3 L962.6,274.3 L962.8,264.0 L963.1,264.0 L963.3,253.5 L963.6,253.5 L963.5,480.6 Z" fill="url(#st)"/>
<path d="M53.3,454.0 L53.9,452.2 L54.5,448.9 L55.1,444.4 L55.7,442.5 L56.3,437.3 L56.9,434.5 L57.5,434.1 L58.1,439.6 L58.7,440.9 L59.3,440.2 L59.9,442.6 L60.5,444.1 L61.1,445.5 L61.7,447.8 L62.3,446.6 L62.9,445.5 L63.5,443.4 L64.1,445.0 L64.7,443.5 L65.3,441.3 L65.9,440.5 L66.5,442.5 L67.1,443.6 L67.7,445.7 L68.3,442.3 L68.9,444.6 L69.5,445.8 L70.1,443.9 L70.7,444.1 L71.3,442.4 L71.9,444.8 L72.5,442.1 L73.1,440.6 L73.7,442.3 L74.3,442.8 L74.9,442.2 L75.5,441.5 L76.1,440.8 L76.7,440.8 L77.3,444.4 L77.9,443.9 L78.5,442.5 L79.1,446.0 L79.7,448.8 L80.3,450.8 L80.9,456.1 L81.5,454.4 L82.1,452.7 L82.7,451.2 L83.3,451.1 L83.9,453.4 L84.5,454.1 L85.1,451.6 L85.7,454.5 L86.3,452.2 L86.9,454.5 L87.5,453.4 L88.1,454.4 L88.7,452.9 L89.3,453.0 L89.9,452.4 L90.5,452.6 L91.1,452.8 L91.7,452.9 L92.3,451.3 L92.9,453.4 L93.5,452.7 L94.1,453.5 L94.7,451.1 L95.3,450.4 L95.9,449.8 L96.5,449.8 L97.1,450.5 L97.7,451.4 L98.3,450.9 L98.9,447.8 L99.5,448.0 L100.1,449.7 L100.7,447.9 L101.3,448.9 L101.9,449.4 L102.5,447.9 L103.1,450.3 L103.7,451.0 L104.3,452.1 L104.9,450.8 L105.5,452.5 L106.1,451.6 L106.7,452.2 L107.3,451.8 L107.9,451.6 L108.5,449.6 L109.1,451.6 L109.7,450.6 L110.3,450.7 L110.9,450.0 L111.5,447.8 L112.1,446.2 L112.7,446.0 L113.3,447.3 L113.9,448.1 L114.5,445.1 L115.1,445.6 L115.7,443.8 L116.3,446.3 L116.9,446.0 L117.5,444.6 L118.1,443.1 L118.7,445.2 L119.3,444.8 L119.9,443.7 L120.5,441.8 L121.1,443.2 L121.7,443.2 L122.3,440.0 L122.9,439.5 L123.5,438.3 L124.1,438.8 L124.7,438.3 L125.3,438.9 L125.9,436.0 L126.5,437.3 L127.1,438.4 L127.7,437.4 L128.3,434.5 L128.9,434.7 L129.5,436.4 L130.1,434.4 L130.7,435.8 L131.3,436.4 L131.9,437.5 L132.5,436.0 L133.1,435.1 L133.7,433.6 L134.3,434.1 L134.9,433.5 L135.5,434.6 L136.1,435.1 L136.7,434.5 L137.3,434.4 L137.9,436.2 L138.5,433.4 L139.1,434.5 L139.7,433.2 L140.3,434.7 L140.9,434.9 L141.5,433.8 L142.1,434.8 L142.7,434.2 L143.3,432.8 L143.9,434.5 L144.5,433.4 L145.1,432.5 L145.7,432.5 L146.3,430.7 L146.9,431.6 L147.5,430.2 L148.1,431.2 L148.7,431.3 L149.3,430.0 L149.9,426.4 L150.5,426.8 L151.1,426.8 L151.7,426.4 L152.3,425.0 L152.9,422.7 L153.5,421.0 L154.1,420.0 L154.7,419.9 L155.3,416.8 L155.9,416.7 L156.5,413.0 L157.1,411.9 L157.7,408.8 L158.3,407.9 L158.9,411.3 L159.5,417.5 L160.1,421.0 L160.7,424.5 L161.3,428.3 L161.9,429.3 L162.5,430.3 L163.1,426.9 L163.7,424.4 L164.3,425.7 L164.9,423.3 L165.5,421.7 L166.1,421.6 L166.7,420.8 L167.3,418.5 L167.9,418.3 L168.5,417.5 L169.1,416.0 L169.7,414.4 L170.3,413.3 L170.9,414.1 L171.5,413.5 L172.1,412.9 L172.7,412.4 L173.3,412.6 L173.9,413.4 L174.5,412.8 L175.1,413.3 L175.7,412.3 L176.3,411.2 L176.9,409.5 L177.5,408.8 L178.1,408.0 L178.7,405.7 L179.3,407.1 L179.9,406.7 L180.5,406.2 L181.1,403.0 L181.7,404.7 L182.3,404.1 L182.9,403.9 L183.5,402.7 L184.1,399.6 L184.7,397.9 L185.3,398.9 L185.9,398.1 L186.5,396.5 L187.1,398.8 L187.7,397.6 L188.3,398.7 L188.9,400.1 L189.5,400.8 L190.1,402.8 L190.7,404.2 L191.3,407.9 L191.9,407.5 L192.5,410.1 L193.1,410.2 L193.7,411.9 L194.3,416.4 L194.9,415.8 L195.5,413.9 L196.1,413.0 L196.7,413.8 L197.3,411.4 L197.9,410.8 L198.5,409.8 L199.1,410.4 L199.7,408.9 L200.3,407.4 L200.9,405.8 L201.5,404.6 L202.1,401.9 L202.7,402.7 L203.3,401.8 L203.9,401.0 L204.5,401.3 L205.1,400.1 L205.7,401.3 L206.3,400.6 L206.9,399.4 L207.5,399.2 L208.1,396.4 L208.7,393.8 L209.3,393.1 L209.9,393.5 L210.5,392.2 L211.1,392.7 L211.7,392.5 L212.3,390.1 L212.9,389.2 L213.5,386.0 L214.1,383.0 L214.7,381.2 L215.3,380.2 L215.9,381.2 L216.5,379.7 L217.1,377.1 L217.7,376.7 L218.3,374.7 L218.9,371.6 L219.5,369.8 L220.1,369.3 L220.7,368.7 L221.3,367.2 L221.9,369.0 L222.5,365.6 L223.1,363.5 L223.7,363.4 L224.3,362.5 L224.9,359.9 L225.5,359.5 L226.1,355.5 L226.7,353.7 L227.3,349.9 L227.9,351.1 L228.5,352.8 L229.1,353.0 L229.7,354.5 L230.3,354.9 L230.9,354.6 L231.5,350.9 L232.1,347.8 L232.7,346.1 L233.3,342.4 L233.9,341.4 L234.5,339.3 L235.1,337.5 L235.7,339.3 L236.3,342.3 L236.9,340.6 L237.5,342.6 L238.1,344.7 L238.7,344.5 L239.3,343.3 L239.9,343.1 L240.5,341.8 L241.1,340.0 L241.7,342.9 L242.3,341.7 L242.9,345.6 L243.5,347.1 L244.1,347.9 L244.7,349.7 L245.3,350.2 L245.9,347.8 L246.5,348.6 L247.1,346.5 L247.7,345.6 L248.3,344.2 L248.9,346.8 L249.5,348.3 L250.1,349.5 L250.7,350.0 L251.3,349.0 L251.9,352.0 L252.5,352.5 L253.1,358.2 L253.7,361.8 L254.3,362.0 L254.9,359.1 L255.5,353.9 L256.1,348.8 L256.7,342.6 L257.3,342.3 L257.9,340.0 L258.5,339.8 L259.1,340.0 L259.7,339.9 L260.3,341.5 L260.9,341.9 L261.5,340.1 L262.1,340.0 L262.7,337.9 L263.3,337.9 L263.9,337.4 L264.5,334.4 L265.1,332.7 L265.7,327.3 L266.3,327.5 L266.9,322.7 L267.5,319.2 L268.1,316.6 L268.7,313.8 L269.3,311.4 L269.9,309.3 L270.5,312.3 L271.1,312.1 L271.7,313.4 L272.3,314.3 L272.9,315.1 L273.5,314.0 L274.1,312.5 L274.7,310.9 L275.3,308.3 L275.9,306.4 L276.5,303.2 L277.1,303.5 L277.7,300.4 L278.3,300.7 L278.9,302.3 L279.5,301.1 L280.1,302.3 L280.7,305.0 L281.3,308.6 L281.9,314.9 L282.5,316.6 L283.1,321.0 L283.7,326.4 L284.3,325.2 L284.9,321.9 L285.5,319.6 L286.1,316.7 L286.7,315.6 L287.3,314.1 L287.9,314.0 L288.5,314.1 L289.1,311.7 L289.7,310.6 L290.3,310.4 L290.9,309.8 L291.5,309.1 L292.1,307.8 L292.7,305.8 L293.3,305.8 L293.9,305.1 L294.5,301.6 L295.1,300.1 L295.7,300.7 L296.3,300.1 L296.9,296.6 L297.5,294.5 L298.1,292.0 L298.7,292.6 L299.3,288.8 L299.9,288.3 L300.5,287.4 L301.1,287.5 L301.7,285.7 L302.3,284.1 L302.9,282.1 L303.5,280.4 L304.1,278.4 L304.7,276.3 L305.3,274.1 L305.9,272.2 L306.5,272.8 L307.1,272.0 L307.7,269.8 L308.3,270.7 L308.9,270.8 L309.5,267.7 L310.1,267.9 L310.7,267.6 L311.3,266.1 L311.9,265.4 L312.5,265.0 L313.1,263.9 L313.7,262.1 L314.3,261.8 L314.9,259.6 L315.5,260.3 L316.1,260.5 L316.7,258.5 L317.3,256.8 L317.9,253.2 L318.5,253.3 L319.1,249.9 L319.7,250.0 L320.3,246.2 L320.9,240.9 L321.5,236.9 L322.1,235.1 L322.7,230.8 L323.3,227.5 L323.9,221.4 L324.5,216.1 L325.1,212.7 L325.7,212.3 L326.3,210.1 L326.9,205.7 L327.5,204.4 L328.1,201.3 L328.7,202.9 L329.3,205.8 L329.9,206.6 L330.5,209.6 L331.1,210.5 L331.7,211.0 L332.3,211.6 L332.9,211.2 L333.5,208.7 L334.1,206.7 L334.7,204.1 L335.3,208.1 L335.9,211.2 L336.5,213.3 L337.1,216.4 L337.7,218.9 L338.3,220.0 L338.9,218.3 L339.5,219.3 L340.1,217.4 L340.7,214.1 L341.3,211.9 L341.9,213.3 L342.5,216.7 L343.1,218.9 L343.7,219.9 L344.3,225.8 L344.9,226.5 L345.5,228.7 L346.1,228.9 L346.7,230.0 L347.3,230.7 L347.9,230.9 L348.5,232.7 L349.1,234.5 L349.7,236.2 L350.3,237.5 L350.9,242.0 L351.5,248.6 L352.1,251.9 L352.7,257.0 L353.3,261.9 L353.9,266.0 L354.5,270.9 L355.1,273.5 L355.7,273.2 L356.3,268.7 L356.9,265.3 L357.5,259.4 L358.1,258.7 L358.7,257.9 L359.3,256.9 L359.9,255.4 L360.5,251.7 L361.1,248.8 L361.7,244.9 L362.3,241.8 L362.9,238.8 L363.5,239.0 L364.1,244.7 L364.7,246.9 L365.3,246.6 L365.9,244.2 L366.5,243.8 L367.1,241.1 L367.7,238.8 L368.3,238.9 L368.9,237.2 L369.5,237.4 L370.1,243.5 L370.7,245.1 L371.3,247.9 L371.9,250.9 L372.5,251.9 L373.1,256.2 L373.7,255.9 L374.3,257.8 L374.9,259.5 L375.5,261.9 L376.1,259.8 L376.7,261.3 L377.3,258.0 L377.9,256.6 L378.5,254.2 L379.1,258.0 L379.7,262.3 L380.3,263.0 L380.9,266.3 L381.5,265.8 L382.1,266.9 L382.7,269.0 L383.3,268.4 L383.9,270.8 L384.5,270.6 L385.1,272.4 L385.7,271.1 L386.3,273.7 L386.9,272.9 L387.5,272.8 L388.1,272.9 L388.7,271.7 L389.3,270.6 L389.9,268.6 L390.5,264.6 L391.1,264.0 L391.7,261.8 L392.3,259.7 L392.9,258.3 L393.5,257.0 L394.1,254.7 L394.7,251.4 L395.3,251.4 L395.9,250.9 L396.5,251.7 L397.1,252.0 L397.7,251.8 L398.3,252.3 L398.9,252.3 L399.5,251.9 L400.1,252.6 L400.7,254.2 L401.3,253.2 L401.9,253.5 L402.5,253.9 L403.1,256.6 L403.7,258.1 L404.3,256.6 L404.9,257.0 L405.5,258.6 L406.1,260.0 L406.7,260.5 L407.3,262.0 L407.9,263.8 L408.5,263.3 L409.1,262.8 L409.7,265.1 L410.3,265.4 L410.9,265.6 L411.5,265.0 L412.1,266.3 L412.7,269.1 L413.3,267.7 L413.9,268.2 L414.5,270.6 L415.1,272.4 L415.7,273.5 L416.3,274.6 L416.9,272.8 L417.5,275.2 L418.1,275.8 L418.7,276.0 L419.3,277.2 L419.9,279.2 L420.5,277.4 L421.1,277.7 L421.7,278.6 L422.3,277.0 L422.9,279.0 L423.5,276.3 L424.1,276.5 L424.7,278.5 L425.3,281.1 L425.9,283.1 L426.5,284.1 L427.1,284.2 L427.7,280.8 L428.3,278.9 L428.9,276.2 L429.5,274.9 L430.1,273.5 L430.7,276.5 L431.3,277.1 L431.9,276.3 L432.5,277.9 L433.1,276.7 L433.7,276.8 L434.3,278.8 L434.9,276.7 L435.5,273.9 L436.1,273.8 L436.7,272.8 L437.3,270.1 L437.9,267.6 L438.5,265.3 L439.1,263.4 L439.7,261.1 L440.3,259.8 L440.9,258.8 L441.5,260.5 L442.1,261.7 L442.7,262.6 L443.3,264.4 L443.9,267.1 L444.5,266.3 L445.1,268.4 L445.7,269.6 L446.3,272.6 L446.9,273.4 L447.5,273.6 L448.1,275.2 L448.7,278.3 L449.3,280.9 L449.9,282.7 L450.5,280.6 L451.1,281.5 L451.7,280.9 L452.3,280.1 L452.9,279.6 L453.5,277.7 L454.1,277.4 L454.7,276.0 L455.3,276.3 L455.9,275.4 L456.5,273.7 L457.1,274.0 L457.7,273.2 L458.3,273.9 L458.9,273.0 L459.5,272.2 L460.1,270.1 L460.7,268.7 L461.3,271.4 L461.9,272.9 L462.5,274.0 L463.1,278.6 L463.7,279.9 L464.3,279.4 L464.9,281.0 L465.5,279.9 L466.1,281.7 L466.7,281.1 L467.3,279.8 L467.9,279.5 L468.5,279.9 L469.1,279.9 L469.7,278.5 L470.3,277.4 L470.9,278.6 L471.5,276.9 L472.1,277.4 L472.7,275.8 L473.3,275.5 L473.9,276.8 L474.5,277.3 L475.1,278.0 L475.7,278.7 L476.3,278.6 L476.9,277.6 L477.5,278.5 L478.1,280.1 L478.7,278.0 L479.3,278.0 L479.9,277.2 L480.5,278.8 L481.1,277.3 L481.7,277.0 L482.3,277.4 L482.9,276.2 L483.5,276.9 L484.1,276.3 L484.7,278.4 L485.3,278.3 L485.9,278.6 L486.5,278.5 L487.1,279.5 L487.7,279.6 L488.3,280.0 L488.9,279.6 L489.5,280.8 L490.1,279.7 L490.7,280.4 L491.3,281.2 L491.9,278.8 L492.5,279.4 L493.1,278.2 L493.7,280.8 L494.3,281.2 L494.9,281.9 L495.5,282.0 L496.1,286.2 L496.7,285.6 L497.3,285.6 L497.9,290.1 L498.5,295.6 L499.1,298.9 L499.7,303.8 L500.3,304.6 L500.9,308.3 L501.5,308.0 L502.1,310.7 L502.7,313.1 L503.3,313.8 L503.9,314.0 L504.5,312.7 L505.1,315.7 L505.7,316.3 L506.3,316.8 L506.9,318.9 L507.5,321.1 L508.1,321.8 L508.7,322.5 L509.3,322.3 L509.9,326.0 L510.5,325.6 L511.1,326.8 L511.7,323.2 L512.3,320.1 L512.9,318.7 L513.5,314.5 L514.1,313.9 L514.7,314.2 L515.3,316.2 L515.9,315.8 L516.5,315.6 L517.1,314.0 L517.7,313.1 L518.3,314.6 L518.9,314.2 L519.5,312.7 L520.1,314.8 L520.7,316.2 L521.3,317.2 L521.9,317.1 L522.5,318.6 L523.1,319.1 L523.7,320.7 L524.3,320.5 L524.9,321.1 L525.5,320.9 L526.1,320.3 L526.7,321.5 L527.3,320.6 L527.9,319.7 L528.5,321.5 L529.1,319.9 L529.7,321.0 L530.3,322.4 L530.9,322.1 L531.5,320.4 L532.1,321.0 L532.7,320.1 L533.3,320.6 L533.9,322.7 L534.5,322.1 L535.1,322.1 L535.7,322.0 L536.3,322.9 L536.9,321.8 L537.5,322.9 L538.1,322.8 L538.7,323.2 L539.3,321.1 L539.9,321.8 L540.5,321.3 L541.1,320.2 L541.7,320.5 L542.3,320.2 L542.9,318.8 L543.5,317.1 L544.1,316.9 L544.7,316.7 L545.3,315.2 L545.9,315.7 L546.5,314.1 L547.1,314.7 L547.7,315.2 L548.3,315.6 L548.9,316.3 L549.5,315.6 L550.1,317.1 L550.7,316.0 L551.3,314.9 L551.9,314.0 L552.5,316.2 L553.1,317.6 L553.7,317.3 L554.3,317.2 L554.9,318.2 L555.5,316.1 L556.1,314.9 L556.7,315.0 L557.3,314.2 L557.9,312.4 L558.5,313.5 L559.1,312.9 L559.7,314.0 L560.3,313.7 L560.9,312.8 L561.5,311.4 L562.1,309.9 L562.7,312.2 L563.3,309.3 L563.9,310.3 L564.5,310.9 L565.1,308.8 L565.7,304.2 L566.3,302.6 L566.9,297.7 L567.5,295.7 L568.1,295.6 L568.7,295.9 L569.3,296.5 L569.9,293.9 L570.5,295.1 L571.1,292.8 L571.7,295.3 L572.3,293.5 L572.9,295.8 L573.5,295.0 L574.1,293.6 L574.7,292.5 L575.3,292.9 L575.9,292.1 L576.5,293.1 L577.1,292.1 L577.7,291.1 L578.3,290.7 L578.9,289.9 L579.5,289.6 L580.1,290.2 L580.7,290.0 L581.3,287.5 L581.9,286.3 L582.5,284.9 L583.1,281.4 L583.7,279.1 L584.3,276.2 L584.9,275.4 L585.5,272.4 L586.1,271.9 L586.7,269.1 L587.3,266.2 L587.9,262.3 L588.5,262.3 L589.1,261.9 L589.7,263.4 L590.3,259.9 L590.9,258.8 L591.5,258.0 L592.1,258.3 L592.7,260.6 L593.3,260.7 L593.9,261.5 L594.5,262.1 L595.1,259.2 L595.7,260.1 L596.3,261.0 L596.9,260.5 L597.5,261.1 L598.1,263.2 L598.7,263.6 L599.3,263.4 L599.9,261.5 L600.5,261.2 L601.1,258.0 L601.7,256.3 L602.3,257.4 L602.9,253.2 L603.5,251.9 L604.1,249.0 L604.7,246.2 L605.3,243.4 L605.9,240.0 L606.5,238.1 L607.1,236.2 L607.7,232.2 L608.3,231.0 L608.9,232.7 L609.5,234.4 L610.1,236.2 L610.7,238.7 L611.3,237.7 L611.9,238.5 L612.5,235.1 L613.1,234.6 L613.7,234.9 L614.3,232.7 L614.9,232.9 L615.5,236.7 L616.1,239.7 L616.7,239.7 L617.3,240.9 L617.9,243.9 L618.5,245.2 L619.1,246.3 L619.7,246.5 L620.3,245.6 L620.9,243.0 L621.5,242.7 L622.1,241.3 L622.7,240.2 L623.3,239.2 L623.9,238.9 L624.5,240.7 L625.1,244.6 L625.7,246.7 L626.3,246.3 L626.9,244.9 L627.5,244.7 L628.1,241.0 L628.7,240.6 L629.3,240.4 L629.9,237.2 L630.5,236.8 L631.1,238.8 L631.7,238.9 L632.3,240.6 L632.9,239.0 L633.5,240.2 L634.1,243.0 L634.7,244.8 L635.3,244.8 L635.9,244.7 L636.5,245.9 L637.1,246.8 L637.7,248.3 L638.3,247.5 L638.9,246.9 L639.5,249.2 L640.1,248.8 L640.7,250.1 L641.3,246.9 L641.9,246.4 L642.5,245.9 L643.1,244.4 L643.7,245.3 L644.3,245.3 L644.9,244.6 L645.5,243.0 L646.1,243.8 L646.7,244.0 L647.3,244.7 L647.9,243.0 L648.5,244.6 L649.1,245.5 L649.7,244.1 L650.3,245.8 L650.9,245.1 L651.5,245.9 L652.1,250.0 L652.7,255.1 L653.3,257.9 L653.9,260.9 L654.5,260.4 L655.1,259.9 L655.7,259.5 L656.3,259.4 L656.9,261.0 L657.5,260.6 L658.1,261.1 L658.7,260.7 L659.3,261.1 L659.9,260.1 L660.5,259.3 L661.1,259.4 L661.7,259.6 L662.3,260.3 L662.9,261.1 L663.5,263.1 L664.1,264.3 L664.7,264.0 L665.3,265.1 L665.9,266.0 L666.5,265.0 L667.1,266.4 L667.7,261.8 L668.3,260.3 L668.9,255.2 L669.5,252.8 L670.1,251.8 L670.7,251.7 L671.3,253.4 L671.9,255.0 L672.5,254.0 L673.1,255.6 L673.7,254.4 L674.3,254.3 L674.9,253.0 L675.5,254.1 L676.1,253.9 L676.7,253.9 L677.3,254.2 L677.9,255.6 L678.5,257.8 L679.1,261.0 L679.7,261.2 L680.3,262.4 L680.9,264.7 L681.5,265.9 L682.1,267.1 L682.7,268.7 L683.3,269.6 L683.9,269.4 L684.5,270.0 L685.1,268.7 L685.7,267.8 L686.3,266.5 L686.9,266.5 L687.5,268.3 L688.1,268.4 L688.7,270.4 L689.3,270.6 L689.9,270.5 L690.5,269.6 L691.1,272.4 L691.7,273.9 L692.3,272.7 L692.9,273.3 L693.5,274.2 L694.1,274.5 L694.7,275.5 L695.3,273.3 L695.9,272.8 L696.5,273.0 L697.1,269.5 L697.7,269.5 L698.3,271.8 L698.9,272.8 L699.5,273.3 L700.1,270.0 L700.7,271.0 L701.3,271.3 L701.9,271.7 L702.5,272.7 L703.1,268.4 L703.7,269.8 L704.3,264.5 L704.9,265.5 L705.5,263.4 L706.1,263.6 L706.7,259.4 L707.3,261.6 L707.9,260.7 L708.5,258.7 L709.1,257.0 L709.7,255.7 L710.3,256.1 L710.9,257.4 L711.5,257.5 L712.1,255.7 L712.7,256.4 L713.3,258.0 L713.9,257.9 L714.5,256.1 L715.1,255.0 L715.7,252.0 L716.3,250.8 L716.9,251.5 L717.5,251.7 L718.1,249.8 L718.7,247.8 L719.3,248.9 L719.9,247.2 L720.5,249.5 L721.1,246.6 L721.7,248.3 L722.3,246.9 L722.9,245.2 L723.5,246.0 L724.1,246.1 L724.7,244.5 L725.3,244.5 L725.9,247.0 L726.5,247.6 L727.1,249.9 L727.7,249.4 L728.3,248.6 L728.9,250.8 L729.5,251.3 L730.1,254.1 L730.7,255.8 L731.3,255.2 L731.9,256.8 L732.5,254.6 L733.1,254.0 L733.7,253.6 L734.3,253.1 L734.9,253.6 L735.5,257.1 L736.1,260.5 L736.7,261.8 L737.3,276.5 L737.9,298.4 L738.5,295.4 L739.1,294.6 L739.7,295.5 L740.3,292.1 L740.9,290.0 L741.5,286.5 L742.1,284.0 L742.7,283.3 L743.3,279.2 L743.9,277.8 L744.5,274.7 L745.1,277.4 L745.7,281.0 L746.3,281.9 L746.9,279.0 L747.5,276.5 L748.1,276.4 L748.7,275.4 L749.3,272.8 L749.9,273.1 L750.5,271.4 L751.1,271.5 L751.7,273.2 L752.3,275.8 L752.9,275.4 L753.5,276.5 L754.1,274.4 L754.7,275.2 L755.3,273.9 L755.9,274.2 L756.5,271.8 L757.1,270.1 L757.7,270.0 L758.3,268.2 L758.9,265.8 L759.5,264.9 L760.1,264.7 L760.7,261.9 L761.3,261.1 L761.9,260.7 L762.5,258.0 L763.1,257.4 L763.7,257.1 L764.3,253.9 L764.9,251.1 L765.5,250.3 L766.1,249.6 L766.7,250.7 L767.3,251.3 L767.9,251.4 L768.5,255.3 L769.1,255.9 L769.7,254.6 L770.3,253.6 L770.9,251.8 L771.5,252.0 L772.1,252.3 L772.7,250.9 L773.3,252.5 L773.9,254.5 L774.5,254.9 L775.1,252.1 L775.7,250.7 L776.3,250.5 L776.9,249.1 L777.5,249.8 L778.1,247.5 L778.7,248.0 L779.3,250.5 L779.9,251.5 L780.5,251.3 L781.1,250.6 L781.7,249.7 L782.3,247.9 L782.9,249.9 L783.5,251.5 L784.1,251.6 L784.7,250.4 L785.3,250.4 L785.9,252.2 L786.5,251.9 L787.1,252.5 L787.7,254.4 L788.3,255.5 L788.9,253.1 L789.5,253.4 L790.1,252.6 L790.7,252.7 L791.3,253.1 L791.9,252.4 L792.5,251.3 L793.1,249.8 L793.7,251.0 L794.3,253.2 L794.9,252.1 L795.5,251.2 L796.1,252.3 L796.7,252.7 L797.3,253.2 L797.9,253.9 L798.5,253.5 L799.1,254.2 L799.7,252.4 L800.3,252.7 L800.9,252.0 L801.5,251.8 L802.1,252.2 L802.7,253.6 L803.3,251.3 L803.9,247.6 L804.5,246.6 L805.1,243.9 L805.7,240.1 L806.3,239.4 L806.9,237.5 L807.5,238.3 L808.1,237.4 L808.7,237.6 L809.3,235.7 L809.9,233.4 L810.5,233.9 L811.1,233.6 L811.7,233.8 L812.3,237.0 L812.9,236.0 L813.5,235.8 L814.1,233.4 L814.7,234.0 L815.3,234.0 L815.9,235.0 L816.5,234.5 L817.1,235.1 L817.7,234.8 L818.3,234.7 L818.9,235.5 L819.5,235.5 L820.1,235.1 L820.7,236.5 L821.3,236.6 L821.9,237.9 L822.5,238.0 L823.1,239.4 L823.7,242.3 L824.3,243.3 L824.9,244.0 L825.5,244.4 L826.1,244.5 L826.7,243.1 L827.3,240.7 L827.9,241.5 L828.5,241.3 L829.1,241.8 L829.7,241.0 L830.3,239.8 L830.9,242.5 L831.5,242.1 L832.1,243.6 L832.7,244.1 L833.3,243.4 L833.9,243.7 L834.5,244.9 L835.1,245.7 L835.7,247.1 L836.3,244.7 L836.9,244.3 L837.5,243.0 L838.1,244.5 L838.7,243.4 L839.3,241.8 L839.9,242.6 L840.5,243.3 L841.1,243.0 L841.7,241.3 L842.3,238.6 L842.9,239.9 L843.5,239.8 L844.1,237.9 L844.7,236.8 L845.3,236.9 L845.9,234.6 L846.5,236.7 L847.1,233.5 L847.7,231.4 L848.3,233.4 L848.9,231.2 L849.5,230.4 L850.1,232.1 L850.7,229.8 L851.3,229.3 L851.9,229.5 L852.5,228.3 L853.1,228.1 L853.7,227.2 L854.3,227.3 L854.9,225.8 L855.5,222.7 L856.1,218.8 L856.7,216.9 L857.3,217.1 L857.9,214.3 L858.5,214.2 L859.1,215.6 L859.7,212.4 L860.3,211.4 L860.9,209.6 L861.5,208.5 L862.1,208.5 L862.7,205.8 L863.3,206.9 L863.9,206.7 L864.5,203.2 L865.1,202.5 L865.7,200.8 L866.3,202.2 L866.9,200.6 L867.5,199.6 L868.1,198.4 L868.7,197.0 L869.3,195.7 L869.9,197.3 L870.5,196.8 L871.1,199.7 L871.7,199.8 L872.3,202.2 L872.9,202.3 L873.5,202.6 L874.1,201.6 L874.7,199.5 L875.3,197.4 L875.9,196.7 L876.5,191.6 L877.1,189.0 L877.7,189.2 L878.3,185.3 L878.9,185.7 L879.5,183.5 L880.1,181.2 L880.7,178.3 L881.3,178.0 L881.9,176.2 L882.5,170.7 L883.1,171.0 L883.7,168.3 L884.3,167.7 L884.9,166.0 L885.5,164.6 L886.1,161.1 L886.7,158.3 L887.3,155.8 L887.9,151.2 L888.5,148.9 L889.1,148.5 L889.7,151.7 L890.3,151.1 L890.9,152.6 L891.5,154.8 L892.1,153.9 L892.7,156.5 L893.3,157.5 L893.9,159.1 L894.5,159.5 L895.1,161.5 L895.7,164.4 L896.3,163.3 L896.9,160.8 L897.5,157.2 L898.1,154.6 L898.7,155.3 L899.3,152.2 L899.9,151.8 L900.5,150.8 L901.1,148.9 L901.7,146.9 L902.3,145.1 L902.9,142.7 L903.5,141.2 L904.1,136.5 L904.7,136.6 L905.3,131.9 L905.9,130.0 L906.5,130.8 L907.1,130.5 L907.7,128.0 L908.3,126.7 L908.9,123.1 L909.5,121.6 L910.1,118.8 L910.7,124.9 L911.3,126.9 L911.9,131.8 L912.5,133.0 L913.1,133.6 L913.7,131.1 L914.3,129.0 L914.9,126.4 L915.5,122.6 L916.1,122.9 L916.7,122.7 L917.3,122.6 L917.9,119.9 L918.5,117.0 L919.1,114.9 L919.7,116.7 L920.3,115.0 L920.9,119.3 L921.5,120.9 L922.1,121.0 L922.7,121.3 L923.3,122.9 L923.9,122.3 L924.5,124.3 L925.1,124.6 L925.7,125.6 L926.3,125.1 L926.9,124.9 L927.5,123.0 L928.1,124.5 L928.7,122.5 L929.3,122.1 L929.9,121.0 L930.5,119.7 L931.1,119.3 L931.7,117.9 L932.3,119.0 L932.9,118.9 L933.5,115.8 L934.1,117.1 L934.7,115.1 L935.3,115.3 L935.9,113.5 L936.5,116.9 L937.1,118.2 L937.7,121.0 L938.3,122.5 L938.9,121.3 L939.5,122.8 L940.1,125.3 L940.7,127.4 L941.3,128.7 L941.9,129.1 L942.5,130.9 L943.1,127.4 L943.7,126.6 L944.3,126.3 L944.9,124.8 L945.5,121.5 L946.1,120.4 L946.7,121.3 L947.3,120.3 L947.9,120.9 L948.5,121.0 L949.1,121.8 L949.7,121.1 L950.3,123.6 L950.9,127.7 L951.5,130.4 L952.1,136.5 L952.7,138.5 L953.3,140.7 L953.9,145.4 L954.5,149.1 L955.1,151.5 L955.7,149.6 L956.3,149.3 L956.9,150.4 L957.5,149.7 L958.1,150.4 L958.7,153.2 L959.3,152.4 L959.9,149.7 L960.5,148.6 L961.1,151.8 L961.7,151.3 L962.3,154.5" fill="none" stroke="#1a1c24" stroke-opacity="0.55" stroke-width="0.95" stroke-linejoin="round"/>
<rect x="322" y="134.8" width="641.4" height="23.6" fill="#fbc9a8" fill-opacity="0.12" stroke="#666" stroke-width="0.8"/>
<ellipse cx="355.3" cy="299.2" rx="9.2" ry="12.2" fill="#f28a6a" fill-opacity="0.38" stroke="#8a5a48" stroke-opacity="0.85" stroke-width="0.8" stroke-dasharray="1.1 1.9"/>
<ellipse cx="959" cy="234" rx="8.8" ry="13" fill="#f08a8a" fill-opacity="0.3" stroke="#8a6060" stroke-opacity="0.85" stroke-width="0.8" stroke-dasharray="1.1 1.9"/>
<line x1="109.3" y1="299.4" x2="963" y2="299.4" stroke="#2b2b2b" stroke-width="1.6" stroke-dasharray="7 7.45" stroke-dashoffset="3.1"/>
<line x1="554.8" y1="235.1" x2="951" y2="235.1" stroke="#2b2b2b" stroke-width="1.6" stroke-dasharray="7 7.6" stroke-dashoffset="3.3"/>
<g stroke="#e3241e" stroke-width="1.3" fill="none" stroke-linecap="round" stroke-linejoin="round"><path d="M337.5,158.5 L354.4,286.6"/><path d="M350.5,282.5 L354.4,286.6 L358,281.8"/><path d="M949.3,157.5 L957.5,221.4"/><path d="M953.5,217.5 L957.5,221.4 L961,216.8"/></g>
<g font-size="17.2" fill="#151515" stroke="#151515" stroke-width="0.6" stroke-linejoin="round">
<text x="171.5" y="142.7" textLength="84.5" lengthAdjust="spacing">2017 Peak</text>
<text x="117" y="163" textLength="194.5" lengthAdjust="spacing">1.15M Active Addresses</text>
<text x="607.8" y="209.1" textLength="107.8" lengthAdjust="spacing">2021 Current</text>
<text x="560" y="230" textLength="203.3" lengthAdjust="spacing">0.94M Active Addresses</text>
</g>
<line x1="172" y1="145.8" x2="257" y2="145.8" stroke="#151515" stroke-width="1.3"/>
<line x1="608.4" y1="213.2" x2="716.2" y2="213.2" stroke="#151515" stroke-width="1.3"/>
<g font-size="16.6" font-style="italic" fill="#202020" stroke="#202020" stroke-width="0.35">
<text x="136.8" y="270.7" textLength="103.6" lengthAdjust="spacing">2017 Sell-off</text>
<text x="90.8" y="291.1" textLength="197" lengthAdjust="spacing">0.77M Active Addresses</text>
</g>
<line x1="137.4" y1="274" x2="241.7" y2="274" stroke="#202020" stroke-width="1.1"/>
<text x="353.5" y="221" font-size="17.5" font-weight="bold" fill="#e3241e" letter-spacing="0.87">-33%</text>
<text x="899.5" y="217.4" font-size="17.5" font-weight="bold" fill="#ee2b10">-18%</text>
</svg>
<div style="position:absolute;left:17px;top:541.2px;font-size:10px;color:#8a8a8a;letter-spacing:0.1px;white-space:nowrap">&#169; 2021 Glassnode. All Rights Reserved.</div>
<div style="position:absolute;left:921px;top:536.6px;font-size:17.5px;color:#1c1c1c;letter-spacing:0.55px;-webkit-text-stroke:0.35px #1c1c1c;white-space:nowrap">glassnode</div>
</body></html>
